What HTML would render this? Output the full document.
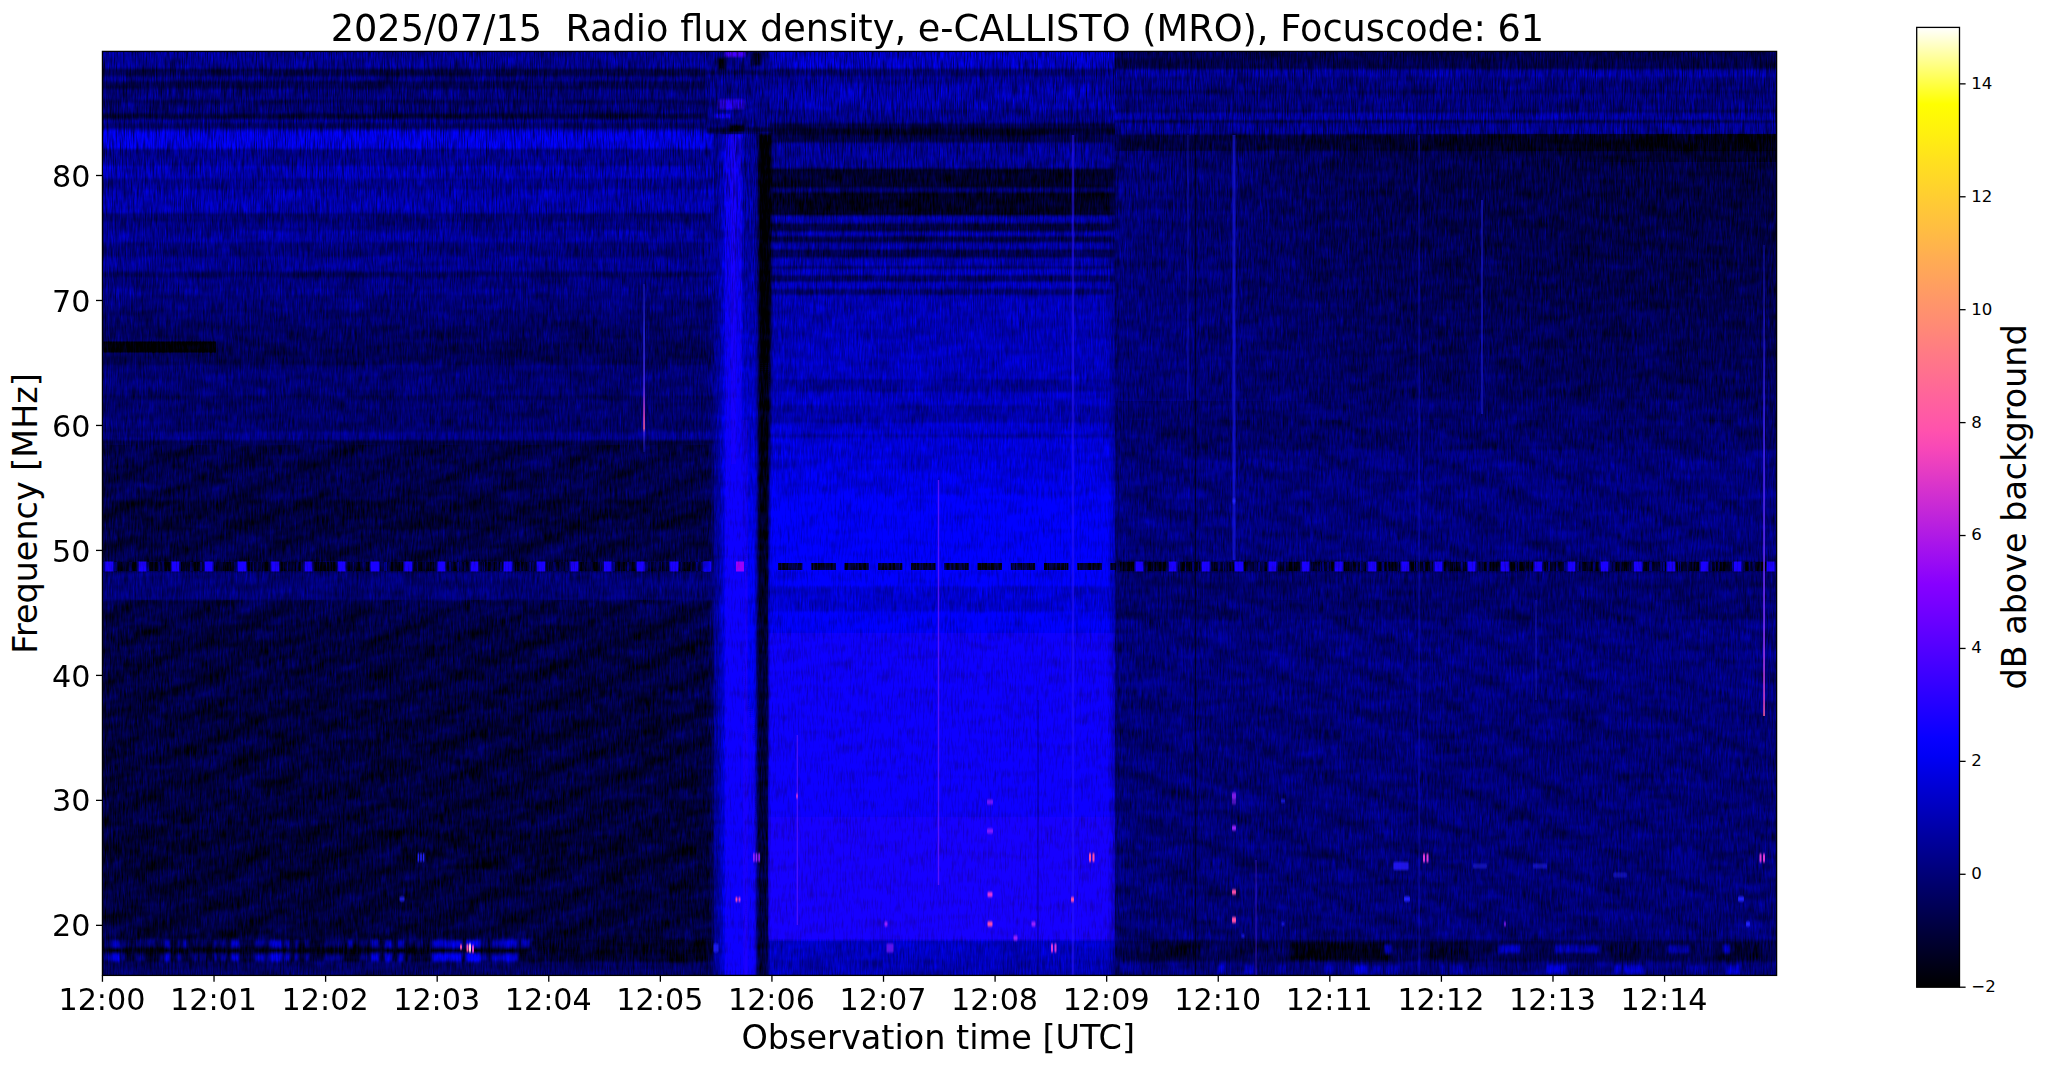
<!DOCTYPE html>
<html lang="en"><head><meta charset="utf-8"><title>2025/07/15 Radio flux density, e-CALLISTO (MRO), Focuscode: 61</title>
<style>
html,body{margin:0;padding:0;background:#fff;}
body{width:2047px;height:1067px;overflow:hidden;position:relative;font-family:"DejaVu Sans","Liberation Sans",sans-serif;}
svg{position:absolute;left:0;top:0;display:block}
text{font-family:"DejaVu Sans","Liberation Sans",sans-serif;fill:#000}
</style></head><body>
<svg width="2047" height="1067" viewBox="0 0 2047 1067">
<defs>
<filter id="vb" x="0" y="0" width="2047" height="1067" filterUnits="userSpaceOnUse"><feGaussianBlur stdDeviation="0 1.2"/></filter>
<filter id="hb" x="690" y="120" width="100" height="870" filterUnits="userSpaceOnUse"><feGaussianBlur stdDeviation="1.6 0"/></filter>
<filter id="sb2" x="100" y="930" width="1680" height="50" filterUnits="userSpaceOnUse"><feGaussianBlur stdDeviation="1.3 1.4"/></filter>
<filter id="sb" x="100" y="45" width="1680" height="935" filterUnits="userSpaceOnUse"><feGaussianBlur stdDeviation="0.7 0.9"/></filter>
<linearGradient id="ln1" x1="0" x2="0" y1="0" y2="1">
<stop offset="0" stop-color="#3030ff" stop-opacity="0.35"/><stop offset="0.3" stop-color="#3434ff" stop-opacity="0.75"/><stop offset="0.6" stop-color="#5030ff" stop-opacity="0.9"/>
<stop offset="0.72" stop-color="#b038e0"/><stop offset="0.8" stop-color="#f048c0"/><stop offset="0.86" stop-color="#ff60a0"/><stop offset="0.885" stop-color="#5030ff" stop-opacity="0.75"/><stop offset="1" stop-color="#3030ff" stop-opacity="0.25"/>
</linearGradient>
<linearGradient id="ln2" x1="0" x2="0" y1="0" y2="1">
<stop offset="0" stop-color="#2020ff" stop-opacity="0.3"/><stop offset="0.4" stop-color="#4828ff" stop-opacity="0.9"/>
<stop offset="0.8" stop-color="#8030ff"/><stop offset="0.97" stop-color="#e040d0"/><stop offset="1" stop-color="#ff60a0"/>
</linearGradient>
<filter id="bb" x="690" y="40" width="100" height="110" filterUnits="userSpaceOnUse"><feGaussianBlur stdDeviation="1.4 1.1"/></filter>
<filter id="noiseB" x="102" y="50" width="1675" height="926" filterUnits="userSpaceOnUse" color-interpolation-filters="sRGB">
<feTurbulence type="fractalNoise" baseFrequency="0.6 0.07" numOctaves="2" seed="4" result="t1"/>
<feTurbulence type="fractalNoise" baseFrequency="0.03 0.1" numOctaves="2" seed="9" result="t2"/>
<feComposite in="t1" in2="t2" operator="arithmetic" k1="0" k2="0.65" k3="0.35" k4="0" result="tt"/>
<feColorMatrix in="tt" type="matrix" values="0 0 0 0 0  1 0 0 0 0  0 0 0 0 0  0 0 0 0 1" result="gn"/>
<feComposite in="SourceGraphic" in2="gn" operator="arithmetic" k1="0" k2="1" k3="1" k4="0" result="mix"/>
<feColorMatrix in="mix" type="matrix" values="1 0 0 0 0  0 0 0 0 0  0 0.8 1 0 -0.4  0 0 0 0 1"/>
</filter>
<filter id="streak" x="102" y="50" width="1675" height="420" filterUnits="userSpaceOnUse" color-interpolation-filters="sRGB">
<feTurbulence type="fractalNoise" baseFrequency="0.9 0.05" numOctaves="2" seed="23" result="t"/>
<feColorMatrix in="t" type="matrix" values="0 0 0 0 0  0 0 0 0 0  0 0 0 0 0  1.3 0 0 0 -0.55"/>
</filter>
<linearGradient id="mskg" x1="0" x2="0" y1="50" y2="470" gradientUnits="userSpaceOnUse">
<stop offset="0" stop-color="#fff"/><stop offset="0.2" stop-color="#fff"/><stop offset="0.55" stop-color="#999"/><stop offset="0.75" stop-color="#444"/><stop offset="1" stop-color="#000"/>
</linearGradient>
<mask id="msk" maskUnits="userSpaceOnUse" x="102" y="50" width="1675" height="420"><rect x="102" y="50" width="1675" height="420" fill="url(#mskg)"/></mask>
<linearGradient id="glowL" x1="0" x2="1" y1="0" y2="0">
<stop offset="0" stop-color="#0000ff" stop-opacity="0"/>
<stop offset="0.5" stop-color="#0000f0" stop-opacity="0.35"/>
<stop offset="0.85" stop-color="#0800ff" stop-opacity="0.95"/>
<stop offset="1" stop-color="#1000ff" stop-opacity="1"/>
</linearGradient>
<linearGradient id="colR" x1="0" x2="0" y1="0" y2="1">
<stop offset="0" stop-color="#0000a0"/>
<stop offset="0.2" stop-color="#0000b4"/>
<stop offset="0.41" stop-color="#0000d8"/>
<stop offset="0.56" stop-color="#0400f5"/>
<stop offset="1" stop-color="#0c00fa"/>
</linearGradient>
<linearGradient id="barV" x1="0" x2="0" y1="0" y2="1">
<stop offset="0" stop-color="#000000"/>
<stop offset="0.35" stop-color="#000008"/>
<stop offset="0.6" stop-color="#000030"/>
<stop offset="1" stop-color="#000038"/>
</linearGradient>
<linearGradient id="cEdge" x1="0" x2="1" y1="0" y2="0">
<stop offset="0" stop-color="#000060" stop-opacity="0"/>
<stop offset="1" stop-color="#000060" stop-opacity="0.7"/>
</linearGradient>
<linearGradient id="dl" x1="0" x2="1" y1="0" y2="0">
<stop offset="0" stop-color="#0000c0" stop-opacity="0.35"/>
<stop offset="1" stop-color="#0000c0" stop-opacity="0"/>
</linearGradient>
<radialGradient id="dr" cx="1" cy="0" r="1">
<stop offset="0" stop-color="#000" stop-opacity="0.32"/>
<stop offset="0.5" stop-color="#000" stop-opacity="0.17"/>
<stop offset="0.8" stop-color="#000" stop-opacity="0.06"/>
<stop offset="1" stop-color="#000" stop-opacity="0"/>
</radialGradient>
<linearGradient id="dr2" x1="0" x2="1" y1="0" y2="0">
<stop offset="0" stop-color="#000" stop-opacity="0"/>
<stop offset="0.5" stop-color="#000" stop-opacity="0.4"/>
<stop offset="1" stop-color="#000" stop-opacity="0.6"/>
</linearGradient>
<linearGradient id="moire" gradientUnits="userSpaceOnUse" x1="0" y1="0" x2="11.6" y2="28.7" spreadMethod="repeat">
<stop offset="0" stop-color="#000" stop-opacity="0"/><stop offset="0.25" stop-color="#0000c0" stop-opacity="0.12"/><stop offset="0.5" stop-color="#000" stop-opacity="0"/><stop offset="0.75" stop-color="#000" stop-opacity="0.4"/><stop offset="1" stop-color="#000" stop-opacity="0"/>
</linearGradient>
<linearGradient id="moire2" gradientUnits="userSpaceOnUse" x1="0" y1="0" x2="-14" y2="34" spreadMethod="repeat">
<stop offset="0" stop-color="#000" stop-opacity="0"/><stop offset="0.25" stop-color="#0000c0" stop-opacity="0.1"/><stop offset="0.5" stop-color="#000" stop-opacity="0"/><stop offset="0.75" stop-color="#000" stop-opacity="0.3"/><stop offset="1" stop-color="#000" stop-opacity="0"/>
</linearGradient>
<linearGradient id="cb" x1="0" x2="0" y1="1" y2="0">
<stop offset="0.0000" stop-color="#000000"/>
<stop offset="0.0200" stop-color="#000014"/>
<stop offset="0.0400" stop-color="#000029"/>
<stop offset="0.0600" stop-color="#00003d"/>
<stop offset="0.0800" stop-color="#000052"/>
<stop offset="0.1000" stop-color="#000066"/>
<stop offset="0.1200" stop-color="#00007a"/>
<stop offset="0.1400" stop-color="#00008f"/>
<stop offset="0.1600" stop-color="#0000a3"/>
<stop offset="0.1800" stop-color="#0000b8"/>
<stop offset="0.2000" stop-color="#0000cc"/>
<stop offset="0.2200" stop-color="#0000e0"/>
<stop offset="0.2400" stop-color="#0000f5"/>
<stop offset="0.2600" stop-color="#0800ff"/>
<stop offset="0.2800" stop-color="#1800ff"/>
<stop offset="0.3000" stop-color="#2800ff"/>
<stop offset="0.3200" stop-color="#3800ff"/>
<stop offset="0.3400" stop-color="#4800ff"/>
<stop offset="0.3600" stop-color="#5800ff"/>
<stop offset="0.3800" stop-color="#6800ff"/>
<stop offset="0.4000" stop-color="#7800ff"/>
<stop offset="0.4200" stop-color="#8700ff"/>
<stop offset="0.4400" stop-color="#970af5"/>
<stop offset="0.4600" stop-color="#a714eb"/>
<stop offset="0.4800" stop-color="#b71fe0"/>
<stop offset="0.5000" stop-color="#c729d6"/>
<stop offset="0.5200" stop-color="#d733cc"/>
<stop offset="0.5400" stop-color="#e73dc2"/>
<stop offset="0.5600" stop-color="#f747b8"/>
<stop offset="0.5800" stop-color="#ff52ad"/>
<stop offset="0.6000" stop-color="#ff5ca3"/>
<stop offset="0.6200" stop-color="#ff6699"/>
<stop offset="0.6400" stop-color="#ff708f"/>
<stop offset="0.6600" stop-color="#ff7a85"/>
<stop offset="0.6800" stop-color="#ff857a"/>
<stop offset="0.7000" stop-color="#ff8f70"/>
<stop offset="0.7200" stop-color="#ff9966"/>
<stop offset="0.7400" stop-color="#ffa35c"/>
<stop offset="0.7600" stop-color="#ffad52"/>
<stop offset="0.7800" stop-color="#ffb847"/>
<stop offset="0.8000" stop-color="#ffc23d"/>
<stop offset="0.8200" stop-color="#ffcc33"/>
<stop offset="0.8400" stop-color="#ffd629"/>
<stop offset="0.8600" stop-color="#ffe01f"/>
<stop offset="0.8800" stop-color="#ffeb14"/>
<stop offset="0.9000" stop-color="#fff50a"/>
<stop offset="0.9200" stop-color="#ffff00"/>
<stop offset="0.9400" stop-color="#ffff40"/>
<stop offset="0.9600" stop-color="#ffff80"/>
<stop offset="0.9800" stop-color="#ffffbf"/>
<stop offset="1.0000" stop-color="#ffffff"/>
</linearGradient>
<clipPath id="cpAll"><rect x="102.3" y="51.2" width="1674.4" height="924.4"/></clipPath>
<clipPath id="cpT"><rect x="102" y="50.5" width="1674.5" height="294.5"/></clipPath>
<clipPath id="cpB"><rect x="102" y="345" width="1674.5" height="630.5"/></clipPath>
<g id="spec">
<rect x="102" y="50.5" width="1674.5" height="925" fill="#000078"/>
<g filter="url(#vb)">
<rect x="102.0" y="50.5" width="612.0" height="18.5" fill="#0000a0"/>
<rect x="102.0" y="68.4" width="612.0" height="8.5" fill="#000052"/>
<rect x="102.0" y="76.3" width="612.0" height="5.3" fill="#00008b"/>
<rect x="102.0" y="81.0" width="612.0" height="8.6" fill="#00005b"/>
<rect x="102.0" y="89.0" width="612.0" height="11.3" fill="#000085"/>
<rect x="102.0" y="99.7" width="612.0" height="4.5" fill="#000062"/>
<rect x="102.0" y="103.6" width="612.0" height="10.4" fill="#00007e"/>
<rect x="102.0" y="113.4" width="612.0" height="6.4" fill="#000040"/>
<rect x="102.0" y="119.2" width="612.0" height="4.4" fill="#000095"/>
<rect x="102.0" y="123.0" width="612.0" height="6.6" fill="#00006d"/>
<rect x="102.0" y="129.0" width="612.0" height="3.1" fill="#0000c2"/>
<rect x="102.0" y="131.5" width="612.0" height="17.6" fill="#0000f4"/>
<rect x="102.0" y="148.5" width="612.0" height="18.1" fill="#00009c"/>
<rect x="102.0" y="166.0" width="612.0" height="12.6" fill="#0000c2"/>
<rect x="102.0" y="178.0" width="612.0" height="12.2" fill="#00009b"/>
<rect x="102.0" y="189.6" width="612.0" height="24.0" fill="#0000b8"/>
<rect x="102.0" y="213.0" width="612.0" height="9.6" fill="#00007a"/>
<rect x="102.0" y="222.0" width="612.0" height="9.2" fill="#00008d"/>
<rect x="102.0" y="230.6" width="612.0" height="12.3" fill="#0000a7"/>
<rect x="102.0" y="242.3" width="612.0" height="15.3" fill="#000081"/>
<rect x="102.0" y="257.0" width="612.0" height="15.3" fill="#00009a"/>
<rect x="102.0" y="271.7" width="612.0" height="6.4" fill="#000064"/>
<rect x="102.0" y="277.5" width="612.0" height="12.1" fill="#000084"/>
<rect x="102.0" y="289.0" width="612.0" height="6.6" fill="#000091"/>
<rect x="102.0" y="295.0" width="612.0" height="15.6" fill="#00007b"/>
<rect x="102.0" y="310.0" width="612.0" height="15.6" fill="#00006f"/>
<rect x="102.0" y="325.0" width="612.0" height="17.6" fill="#000064"/>
<rect x="102.0" y="342.0" width="612.0" height="10.6" fill="#000059"/>
<rect x="102.0" y="352.0" width="612.0" height="13.6" fill="#000058"/>
<rect x="102.0" y="365.0" width="612.0" height="30.6" fill="#000073"/>
<rect x="102.0" y="395.0" width="612.0" height="5.6" fill="#00005c"/>
<rect x="102.0" y="400.0" width="612.0" height="32.6" fill="#00006b"/>
<rect x="102.0" y="432.0" width="612.0" height="8.6" fill="#000083"/>
<rect x="102.0" y="440.0" width="612.0" height="15.6" fill="#000049"/>
<rect x="102.0" y="455.0" width="612.0" height="15.6" fill="#000050"/>
<rect x="102.0" y="470.0" width="612.0" height="15.6" fill="#000050"/>
<rect x="102.0" y="485.0" width="612.0" height="15.6" fill="#000050"/>
<rect x="102.0" y="500.0" width="612.0" height="30.6" fill="#00003c"/>
<rect x="102.0" y="530.0" width="612.0" height="31.6" fill="#00004c"/>
<rect x="102.0" y="561.0" width="612.0" height="11.6" fill="#000037"/>
<rect x="102.0" y="572.0" width="612.0" height="28.6" fill="#000072"/>
<rect x="102.0" y="600.0" width="612.0" height="25.6" fill="#00004a"/>
<rect x="102.0" y="625.0" width="612.0" height="28.6" fill="#000040"/>
<rect x="102.0" y="653.0" width="612.0" height="47.6" fill="#000040"/>
<rect x="102.0" y="700.0" width="612.0" height="130.6" fill="#00003e"/>
<rect x="102.0" y="830.0" width="612.0" height="40.6" fill="#000035"/>
<rect x="102.0" y="870.0" width="612.0" height="70.6" fill="#00003e"/>
<rect x="102.0" y="940.0" width="612.0" height="22.6" fill="#000032"/>
<rect x="102.0" y="962.0" width="612.0" height="14.1" fill="#00005f"/>
<rect x="768.0" y="50.5" width="349.0" height="18.5" fill="#0000d5"/>
<rect x="768.0" y="68.4" width="349.0" height="8.5" fill="#00007b"/>
<rect x="768.0" y="76.3" width="349.0" height="8.3" fill="#0000a0"/>
<rect x="768.0" y="84.0" width="349.0" height="26.1" fill="#0000ba"/>
<rect x="768.0" y="109.5" width="349.0" height="14.1" fill="#000097"/>
<rect x="768.0" y="123.0" width="349.0" height="5.6" fill="#000052"/>
<rect x="768.0" y="128.0" width="349.0" height="7.6" fill="#00002e"/>
<rect x="768.0" y="135.0" width="349.0" height="8.6" fill="#000052"/>
<rect x="768.0" y="143.0" width="349.0" height="25.6" fill="#0000a4"/>
<rect x="768.0" y="168.0" width="349.0" height="20.6" fill="#00002d"/>
<rect x="768.0" y="188.0" width="349.0" height="4.6" fill="#00007b"/>
<rect x="768.0" y="192.0" width="349.0" height="24.6" fill="#000027"/>
<rect x="768.0" y="216.0" width="349.0" height="7.6" fill="#0000b1"/>
<rect x="768.0" y="223.0" width="349.0" height="9.2" fill="#00004d"/>
<rect x="768.0" y="231.6" width="349.0" height="5.0" fill="#0000b0"/>
<rect x="768.0" y="236.0" width="349.0" height="7.2" fill="#00004d"/>
<rect x="768.0" y="242.6" width="349.0" height="7.0" fill="#0000af"/>
<rect x="768.0" y="249.0" width="349.0" height="9.6" fill="#000057"/>
<rect x="768.0" y="258.0" width="349.0" height="8.6" fill="#0000b4"/>
<rect x="768.0" y="266.0" width="349.0" height="3.6" fill="#000078"/>
<rect x="768.0" y="269.0" width="349.0" height="6.6" fill="#0000c3"/>
<rect x="768.0" y="275.0" width="349.0" height="7.6" fill="#00006c"/>
<rect x="768.0" y="282.0" width="349.0" height="7.2" fill="#0000c2"/>
<rect x="768.0" y="288.6" width="349.0" height="7.0" fill="#000076"/>
<rect x="768.0" y="295.0" width="349.0" height="15.6" fill="#0000bc"/>
<rect x="768.0" y="310.0" width="349.0" height="15.6" fill="#0000bb"/>
<rect x="768.0" y="325.0" width="349.0" height="15.6" fill="#0000b9"/>
<rect x="768.0" y="340.0" width="349.0" height="39.6" fill="#0000c1"/>
<rect x="768.0" y="379.0" width="349.0" height="13.6" fill="#00009f"/>
<rect x="768.0" y="392.0" width="349.0" height="13.6" fill="#0000c4"/>
<rect x="768.0" y="405.0" width="349.0" height="18.6" fill="#0000a7"/>
<rect x="768.0" y="423.0" width="349.0" height="11.6" fill="#0000cd"/>
<rect x="768.0" y="434.0" width="349.0" height="4.6" fill="#0000ae"/>
<rect x="768.0" y="438.0" width="349.0" height="32.6" fill="#0000d5"/>
<rect x="768.0" y="470.0" width="349.0" height="25.6" fill="#0000e1"/>
<rect x="768.0" y="495.0" width="349.0" height="66.6" fill="#0300f4"/>
<rect x="768.0" y="561.0" width="349.0" height="11.1" fill="#0600ff"/>
<rect x="768.0" y="571.5" width="349.0" height="15.1" fill="#0300f2"/>
<rect x="768.0" y="586.0" width="349.0" height="26.6" fill="#0000cd"/>
<rect x="768.0" y="612.0" width="349.0" height="21.1" fill="#0600f0"/>
<rect x="768.0" y="632.5" width="349.0" height="21.1" fill="#0700f1"/>
<rect x="768.0" y="653.0" width="349.0" height="21.1" fill="#0800f2"/>
<rect x="768.0" y="673.5" width="349.0" height="21.1" fill="#0900f3"/>
<rect x="768.0" y="694.0" width="349.0" height="21.1" fill="#0a00f4"/>
<rect x="768.0" y="714.5" width="349.0" height="21.1" fill="#0c00f5"/>
<rect x="768.0" y="735.0" width="349.0" height="21.1" fill="#0d00f6"/>
<rect x="768.0" y="755.5" width="349.0" height="21.1" fill="#0e00f7"/>
<rect x="768.0" y="776.0" width="349.0" height="21.1" fill="#0f00f8"/>
<rect x="768.0" y="796.5" width="349.0" height="21.1" fill="#1000f8"/>
<rect x="768.0" y="817.0" width="349.0" height="21.1" fill="#1200f8"/>
<rect x="768.0" y="837.5" width="349.0" height="21.1" fill="#1300f8"/>
<rect x="768.0" y="858.0" width="349.0" height="21.1" fill="#1400f8"/>
<rect x="768.0" y="878.5" width="349.0" height="21.1" fill="#1500f8"/>
<rect x="768.0" y="899.0" width="349.0" height="21.1" fill="#1600f8"/>
<rect x="768.0" y="919.5" width="349.0" height="21.1" fill="#1800f8"/>
<rect x="768.0" y="940.0" width="349.0" height="20.6" fill="#0000be"/>
<rect x="768.0" y="960.0" width="349.0" height="16.1" fill="#0000af"/>
<rect x="1115.0" y="50.5" width="661.5" height="19.5" fill="#000055"/>
<rect x="1115.0" y="69.4" width="661.5" height="8.2" fill="#0000a9"/>
<rect x="1115.0" y="77.0" width="661.5" height="13.6" fill="#000089"/>
<rect x="1115.0" y="90.0" width="661.5" height="4.6" fill="#000070"/>
<rect x="1115.0" y="94.0" width="661.5" height="16.1" fill="#000089"/>
<rect x="1115.0" y="109.5" width="661.5" height="4.1" fill="#000072"/>
<rect x="1115.0" y="113.0" width="661.5" height="7.6" fill="#0000ab"/>
<rect x="1115.0" y="120.0" width="661.5" height="3.6" fill="#000059"/>
<rect x="1115.0" y="123.0" width="661.5" height="11.6" fill="#0000a0"/>
<rect x="1115.0" y="134.0" width="661.5" height="17.6" fill="#000042"/>
<rect x="1115.0" y="151.0" width="661.5" height="19.2" fill="#000066"/>
<rect x="1115.0" y="169.6" width="661.5" height="19.2" fill="#000065"/>
<rect x="1115.0" y="188.2" width="661.5" height="19.2" fill="#000064"/>
<rect x="1115.0" y="206.9" width="661.5" height="19.2" fill="#000064"/>
<rect x="1115.0" y="225.5" width="661.5" height="19.2" fill="#000063"/>
<rect x="1115.0" y="244.1" width="661.5" height="19.2" fill="#000062"/>
<rect x="1115.0" y="262.8" width="661.5" height="19.2" fill="#000062"/>
<rect x="1115.0" y="281.4" width="661.5" height="19.2" fill="#000061"/>
<rect x="1115.0" y="300.0" width="661.5" height="17.3" fill="#000064"/>
<rect x="1115.0" y="316.7" width="661.5" height="17.3" fill="#000063"/>
<rect x="1115.0" y="333.3" width="661.5" height="17.3" fill="#000062"/>
<rect x="1115.0" y="350.0" width="661.5" height="17.3" fill="#000062"/>
<rect x="1115.0" y="366.7" width="661.5" height="17.3" fill="#000061"/>
<rect x="1115.0" y="383.3" width="661.5" height="17.3" fill="#000060"/>
<rect x="1115.0" y="400.0" width="661.5" height="17.3" fill="#00006c"/>
<rect x="1115.0" y="416.7" width="661.5" height="17.3" fill="#00006c"/>
<rect x="1115.0" y="433.3" width="661.5" height="17.3" fill="#00006b"/>
<rect x="1115.0" y="450.0" width="661.5" height="19.1" fill="#00007d"/>
<rect x="1115.0" y="468.5" width="661.5" height="19.1" fill="#00007d"/>
<rect x="1115.0" y="487.0" width="661.5" height="19.1" fill="#00007d"/>
<rect x="1115.0" y="505.5" width="661.5" height="19.1" fill="#00007d"/>
<rect x="1115.0" y="524.0" width="661.5" height="19.1" fill="#00007d"/>
<rect x="1115.0" y="542.5" width="661.5" height="19.1" fill="#00007d"/>
<rect x="1115.0" y="561.0" width="661.5" height="11.6" fill="#00003c"/>
<rect x="1115.0" y="572.0" width="661.5" height="48.6" fill="#00006c"/>
<rect x="1115.0" y="620.0" width="661.5" height="80.6" fill="#00007d"/>
<rect x="1115.0" y="700.0" width="661.5" height="240.6" fill="#000076"/>
<rect x="1115.0" y="940.0" width="661.5" height="22.6" fill="#000050"/>
<rect x="1115.0" y="962.0" width="661.5" height="14.1" fill="#000070"/>
</g>
<rect x="102" y="445" width="610" height="116" fill="url(#moire)" opacity="0.9"/>
<rect x="102" y="600" width="610" height="340" fill="url(#moire)" opacity="0.9"/>
<rect x="1117" y="420" width="660" height="140" fill="url(#moire2)" opacity="0.6"/>
<rect x="1117" y="600" width="660" height="340" fill="url(#moire2)" opacity="0.6"/>
<rect x="103.5" y="341.5" width="112.5" height="11.0" fill="#000000"/>
<rect x="1115" y="151" width="260" height="250" fill="url(#dl)"/>
<rect x="1177" y="134" width="600" height="330" fill="url(#dr)"/>
<rect x="1300" y="134" width="477" height="17" fill="url(#dr2)"/>
<rect x="1540" y="150" width="237" height="12" fill="url(#dr2)" opacity="0.8"/>
<g filter="url(#hb)">
<rect x="708" y="134" width="22" height="842" fill="url(#glowL)"/>
<rect x="725.0" y="134.0" width="19.0" height="842.0" fill="#0e00ff"/>
<rect x="742" y="134" width="15" height="842" fill="url(#colR)"/>
<rect x="744.5" y="420" width="2.4" height="556" fill="#5a10ff" opacity="0.3"/>
<rect x="732.5" y="134" width="2.4" height="330" fill="#4a08ff" opacity="0.25"/>
<path d="M757.8 133 L771.6 133 L771.2 300 L769.4 480 L768.2 620 L768 976 L755.8 976 L755.8 620 L757 480 L757.6 300 Z" fill="url(#barV)"/>
</g>
<rect x="1107" y="135" width="12" height="841" fill="url(#cEdge)"/>
<g filter="url(#bb)">
<rect x="706.0" y="50.5" width="64.0" height="83.5" fill="#000096"/>
<rect x="706.0" y="69.7" width="64.0" height="5.3" fill="#00005f"/>
<rect x="706.0" y="127.0" width="64.0" height="6.0" fill="#000050"/>
<rect x="726.0" y="51.0" width="18.0" height="5.5" fill="#4600ff"/>
<rect x="717.0" y="57.5" width="9.0" height="12.2" fill="#000005"/>
<rect x="751.0" y="52.0" width="11.0" height="14.0" fill="#000028"/>
<rect x="719.0" y="99.6" width="25.0" height="9.4" fill="#2800ff"/>
<rect x="715.0" y="114.0" width="15.0" height="4.0" fill="#0a00fa"/>
<rect x="729.0" y="124.4" width="16.0" height="8.2" fill="#000000"/>
</g>
<g filter="url(#sb2)">
<rect x="103.0" y="947.0" width="597.0" height="7.0" fill="#000016"/>
<rect x="104.0" y="939.5" width="10.0" height="7.0" fill="#000082"/>
<rect x="104.0" y="954.5" width="10.0" height="7.0" fill="#00009b"/>
<rect x="122.0" y="939.5" width="3.0" height="7.0" fill="#000096"/>
<rect x="122.0" y="954.5" width="3.0" height="7.0" fill="#0000af"/>
<rect x="126.0" y="939.5" width="4.0" height="7.0" fill="#00005f"/>
<rect x="135.0" y="939.5" width="10.0" height="7.0" fill="#00005f"/>
<rect x="135.0" y="954.5" width="10.0" height="7.0" fill="#000078"/>
<rect x="147.0" y="939.5" width="8.0" height="7.0" fill="#000082"/>
<rect x="160.0" y="939.5" width="4.0" height="7.0" fill="#00005f"/>
<rect x="160.0" y="954.5" width="4.0" height="7.0" fill="#000078"/>
<rect x="177.0" y="939.5" width="4.0" height="7.0" fill="#000082"/>
<rect x="177.0" y="954.5" width="4.0" height="7.0" fill="#00009b"/>
<rect x="183.0" y="939.5" width="4.0" height="7.0" fill="#0000be"/>
<rect x="192.0" y="939.5" width="6.0" height="7.0" fill="#00005f"/>
<rect x="192.0" y="954.5" width="6.0" height="7.0" fill="#000078"/>
<rect x="200.0" y="939.5" width="6.0" height="7.0" fill="#00005f"/>
<rect x="200.0" y="954.5" width="6.0" height="7.0" fill="#000078"/>
<rect x="214.0" y="939.5" width="3.0" height="7.0" fill="#0000aa"/>
<rect x="214.0" y="954.5" width="3.0" height="7.0" fill="#0000c3"/>
<rect x="220.0" y="939.5" width="6.0" height="7.0" fill="#000082"/>
<rect x="220.0" y="954.5" width="6.0" height="7.0" fill="#00009b"/>
<rect x="231.0" y="939.5" width="8.0" height="7.0" fill="#0000be"/>
<rect x="231.0" y="954.5" width="8.0" height="7.0" fill="#0000d7"/>
<rect x="255.0" y="939.5" width="10.0" height="7.0" fill="#000096"/>
<rect x="255.0" y="954.5" width="10.0" height="7.0" fill="#0000af"/>
<rect x="266.0" y="939.5" width="8.0" height="7.0" fill="#00005f"/>
<rect x="266.0" y="954.5" width="8.0" height="7.0" fill="#000078"/>
<rect x="284.0" y="939.5" width="6.0" height="7.0" fill="#0000aa"/>
<rect x="284.0" y="954.5" width="6.0" height="7.0" fill="#0000c3"/>
<rect x="295.0" y="939.5" width="3.0" height="7.0" fill="#0000aa"/>
<rect x="295.0" y="954.5" width="3.0" height="7.0" fill="#0000c3"/>
<rect x="305.0" y="939.5" width="4.0" height="7.0" fill="#000082"/>
<rect x="305.0" y="954.5" width="4.0" height="7.0" fill="#00009b"/>
<rect x="325.0" y="939.5" width="3.0" height="7.0" fill="#000082"/>
<rect x="325.0" y="954.5" width="3.0" height="7.0" fill="#00009b"/>
<rect x="329.0" y="939.5" width="14.0" height="7.0" fill="#00006e"/>
<rect x="329.0" y="954.5" width="14.0" height="7.0" fill="#000087"/>
<rect x="348.0" y="939.5" width="4.0" height="7.0" fill="#0000be"/>
<rect x="360.0" y="939.5" width="8.0" height="7.0" fill="#00005f"/>
<rect x="360.0" y="954.5" width="8.0" height="7.0" fill="#000078"/>
<rect x="371.0" y="939.5" width="8.0" height="7.0" fill="#0000be"/>
<rect x="371.0" y="954.5" width="8.0" height="7.0" fill="#0000d7"/>
<rect x="409.0" y="939.5" width="3.0" height="7.0" fill="#00006e"/>
<rect x="409.0" y="954.5" width="3.0" height="7.0" fill="#000087"/>
<rect x="417.0" y="939.5" width="6.0" height="7.0" fill="#00006e"/>
<rect x="438.0" y="939.5" width="8.0" height="7.0" fill="#000082"/>
<rect x="438.0" y="954.5" width="8.0" height="7.0" fill="#00009b"/>
<rect x="466.0" y="939.5" width="4.0" height="7.0" fill="#00005f"/>
<rect x="466.0" y="954.5" width="4.0" height="7.0" fill="#000078"/>
<rect x="478.0" y="939.5" width="10.0" height="7.0" fill="#000082"/>
<rect x="478.0" y="954.5" width="10.0" height="7.0" fill="#00009b"/>
<rect x="491.0" y="939.5" width="14.0" height="7.0" fill="#0000aa"/>
<rect x="491.0" y="954.5" width="14.0" height="7.0" fill="#0000c3"/>
<rect x="508.0" y="939.5" width="10.0" height="7.0" fill="#0000be"/>
<rect x="508.0" y="954.5" width="10.0" height="7.0" fill="#0000d7"/>
<rect x="521.0" y="939.5" width="14.0" height="7.0" fill="#0000be"/>
<rect x="112.0" y="940.0" width="8.0" height="7.0" fill="#0000d2"/>
<rect x="112.0" y="954.0" width="8.0" height="8.0" fill="#0000e1"/>
<rect x="165.0" y="940.0" width="5.0" height="7.0" fill="#0000c8"/>
<rect x="165.0" y="954.0" width="5.0" height="8.0" fill="#0000d7"/>
<rect x="270.0" y="940.0" width="12.0" height="7.0" fill="#0000d7"/>
<rect x="270.0" y="954.0" width="12.0" height="8.0" fill="#0000e6"/>
<rect x="385.0" y="940.0" width="7.0" height="7.0" fill="#0000c8"/>
<rect x="385.0" y="954.0" width="7.0" height="8.0" fill="#0000d7"/>
<rect x="398.0" y="940.0" width="6.0" height="7.0" fill="#0000be"/>
<rect x="398.0" y="954.0" width="6.0" height="8.0" fill="#0000cd"/>
<rect x="432.0" y="940.0" width="20.0" height="7.0" fill="#0000c8"/>
<rect x="432.0" y="954.0" width="20.0" height="8.0" fill="#0000d7"/>
<rect x="452.0" y="940.0" width="10.0" height="7.0" fill="#0000e1"/>
<rect x="452.0" y="954.0" width="10.0" height="8.0" fill="#0000f0"/>
<rect x="466.0" y="940.0" width="14.0" height="7.0" fill="#0000fa"/>
<rect x="466.0" y="954.0" width="14.0" height="8.0" fill="#0000ff"/>
<rect x="505.0" y="940.0" width="7.0" height="7.0" fill="#0000d7"/>
<rect x="505.0" y="954.0" width="7.0" height="8.0" fill="#0000e6"/>
<rect x="530.0" y="940.0" width="8.0" height="21.0" fill="#000037"/>
<rect x="548.0" y="940.0" width="18.0" height="21.0" fill="#000028"/>
<rect x="576.0" y="940.0" width="18.0" height="21.0" fill="#000037"/>
<rect x="600.0" y="940.0" width="18.0" height="21.0" fill="#000028"/>
<rect x="624.0" y="940.0" width="18.0" height="21.0" fill="#000037"/>
<rect x="648.0" y="940.0" width="12.0" height="21.0" fill="#000037"/>
<rect x="666.0" y="940.0" width="18.0" height="21.0" fill="#000019"/>
<rect x="694.0" y="940.0" width="12.0" height="21.0" fill="#000019"/>
<rect x="1120.0" y="965.0" width="20.0" height="9.0" fill="#000096"/>
<rect x="1218.0" y="965.0" width="6.0" height="9.0" fill="#0000c8"/>
<rect x="1244.0" y="965.0" width="10.0" height="9.0" fill="#0000c8"/>
<rect x="1276.0" y="965.0" width="10.0" height="9.0" fill="#000096"/>
<rect x="1324.0" y="965.0" width="10.0" height="9.0" fill="#0000aa"/>
<rect x="1354.0" y="965.0" width="14.0" height="9.0" fill="#0000c8"/>
<rect x="1372.0" y="965.0" width="10.0" height="9.0" fill="#0000aa"/>
<rect x="1386.0" y="965.0" width="14.0" height="9.0" fill="#0000aa"/>
<rect x="1440.0" y="965.0" width="6.0" height="9.0" fill="#0000aa"/>
<rect x="1450.0" y="965.0" width="14.0" height="9.0" fill="#0000aa"/>
<rect x="1546.0" y="965.0" width="20.0" height="9.0" fill="#0000c8"/>
<rect x="1614.0" y="965.0" width="6.0" height="9.0" fill="#0000c8"/>
<rect x="1624.0" y="965.0" width="20.0" height="9.0" fill="#0000c8"/>
<rect x="1686.0" y="965.0" width="20.0" height="9.0" fill="#000096"/>
<rect x="1726.0" y="965.0" width="14.0" height="9.0" fill="#0000c8"/>
<rect x="1290.0" y="942.0" width="100.0" height="18.0" fill="#000019"/>
<rect x="1150.0" y="942.0" width="50.0" height="18.0" fill="#000032"/>
<rect x="1430.0" y="942.0" width="40.0" height="18.0" fill="#00002d"/>
<rect x="1610.0" y="942.0" width="30.0" height="18.0" fill="#000037"/>
<rect x="1715.0" y="942.0" width="45.0" height="18.0" fill="#00002d"/>
<rect x="1555.0" y="945.0" width="22.0" height="8.0" fill="#0000af"/>
<rect x="1667.0" y="945.0" width="23.0" height="8.0" fill="#0000af"/>
<rect x="1385.0" y="945.0" width="7.0" height="8.0" fill="#0000af"/>
<rect x="1498.0" y="945.0" width="22.0" height="8.0" fill="#0000af"/>
<rect x="1723.0" y="945.0" width="7.0" height="8.0" fill="#0000af"/>
<rect x="1577.0" y="945.0" width="23.0" height="8.0" fill="#0000af"/>
</g>
<rect x="102.0" y="562.0" width="610.0" height="9.0" fill="#000026"/>
<rect x="102.0" y="562.0" width="2.0" height="9.0" fill="#000078"/>
<rect x="107.0" y="562.0" width="2.0" height="9.0" fill="#000050"/>
<rect x="110.0" y="562.0" width="1.0" height="9.0" fill="#000078"/>
<rect x="114.0" y="562.0" width="3.0" height="9.0" fill="#000078"/>
<rect x="118.0" y="562.0" width="1.0" height="9.0" fill="#000032"/>
<rect x="121.0" y="562.0" width="1.0" height="9.0" fill="#000000"/>
<rect x="123.0" y="562.0" width="3.0" height="9.0" fill="#000032"/>
<rect x="129.0" y="562.0" width="3.0" height="9.0" fill="#000064"/>
<rect x="133.0" y="562.0" width="3.0" height="9.0" fill="#000000"/>
<rect x="137.0" y="562.0" width="1.0" height="9.0" fill="#000000"/>
<rect x="139.0" y="562.0" width="1.0" height="9.0" fill="#000050"/>
<rect x="141.0" y="562.0" width="2.0" height="9.0" fill="#000000"/>
<rect x="146.0" y="562.0" width="3.0" height="9.0" fill="#000078"/>
<rect x="150.0" y="562.0" width="3.0" height="9.0" fill="#000000"/>
<rect x="155.0" y="562.0" width="2.0" height="9.0" fill="#000000"/>
<rect x="158.0" y="562.0" width="2.0" height="9.0" fill="#000064"/>
<rect x="162.0" y="562.0" width="2.0" height="9.0" fill="#000050"/>
<rect x="165.0" y="562.0" width="2.0" height="9.0" fill="#000000"/>
<rect x="168.0" y="562.0" width="3.0" height="9.0" fill="#000000"/>
<rect x="172.0" y="562.0" width="1.0" height="9.0" fill="#000050"/>
<rect x="174.0" y="562.0" width="2.0" height="9.0" fill="#000000"/>
<rect x="178.0" y="562.0" width="2.0" height="9.0" fill="#000000"/>
<rect x="181.0" y="562.0" width="1.0" height="9.0" fill="#000000"/>
<rect x="183.0" y="562.0" width="1.0" height="9.0" fill="#000032"/>
<rect x="187.0" y="562.0" width="2.0" height="9.0" fill="#000032"/>
<rect x="190.0" y="562.0" width="3.0" height="9.0" fill="#000064"/>
<rect x="194.0" y="562.0" width="2.0" height="9.0" fill="#000000"/>
<rect x="197.0" y="562.0" width="2.0" height="9.0" fill="#000000"/>
<rect x="200.0" y="562.0" width="2.0" height="9.0" fill="#000078"/>
<rect x="203.0" y="562.0" width="1.0" height="9.0" fill="#000000"/>
<rect x="205.0" y="562.0" width="1.0" height="9.0" fill="#000000"/>
<rect x="209.0" y="562.0" width="2.0" height="9.0" fill="#000000"/>
<rect x="212.0" y="562.0" width="2.0" height="9.0" fill="#000050"/>
<rect x="215.0" y="562.0" width="1.0" height="9.0" fill="#000032"/>
<rect x="219.0" y="562.0" width="1.0" height="9.0" fill="#000032"/>
<rect x="223.0" y="562.0" width="1.0" height="9.0" fill="#000000"/>
<rect x="226.0" y="562.0" width="3.0" height="9.0" fill="#000000"/>
<rect x="230.0" y="562.0" width="1.0" height="9.0" fill="#000000"/>
<rect x="234.0" y="562.0" width="3.0" height="9.0" fill="#000064"/>
<rect x="238.0" y="562.0" width="1.0" height="9.0" fill="#000000"/>
<rect x="240.0" y="562.0" width="2.0" height="9.0" fill="#000000"/>
<rect x="243.0" y="562.0" width="3.0" height="9.0" fill="#000000"/>
<rect x="248.0" y="562.0" width="2.0" height="9.0" fill="#000000"/>
<rect x="251.0" y="562.0" width="1.0" height="9.0" fill="#000000"/>
<rect x="253.0" y="562.0" width="1.0" height="9.0" fill="#000050"/>
<rect x="256.0" y="562.0" width="2.0" height="9.0" fill="#000050"/>
<rect x="261.0" y="562.0" width="1.0" height="9.0" fill="#000050"/>
<rect x="265.0" y="562.0" width="3.0" height="9.0" fill="#000000"/>
<rect x="271.0" y="562.0" width="1.0" height="9.0" fill="#000064"/>
<rect x="273.0" y="562.0" width="2.0" height="9.0" fill="#000000"/>
<rect x="276.0" y="562.0" width="1.0" height="9.0" fill="#000000"/>
<rect x="278.0" y="562.0" width="2.0" height="9.0" fill="#000032"/>
<rect x="281.0" y="562.0" width="2.0" height="9.0" fill="#000000"/>
<rect x="284.0" y="562.0" width="1.0" height="9.0" fill="#000000"/>
<rect x="287.0" y="562.0" width="1.0" height="9.0" fill="#000064"/>
<rect x="291.0" y="562.0" width="2.0" height="9.0" fill="#000032"/>
<rect x="296.0" y="562.0" width="2.0" height="9.0" fill="#000050"/>
<rect x="299.0" y="562.0" width="1.0" height="9.0" fill="#000000"/>
<rect x="301.0" y="562.0" width="2.0" height="9.0" fill="#000050"/>
<rect x="304.0" y="562.0" width="2.0" height="9.0" fill="#000000"/>
<rect x="307.0" y="562.0" width="1.0" height="9.0" fill="#000000"/>
<rect x="310.0" y="562.0" width="2.0" height="9.0" fill="#000032"/>
<rect x="313.0" y="562.0" width="1.0" height="9.0" fill="#000000"/>
<rect x="315.0" y="562.0" width="2.0" height="9.0" fill="#000000"/>
<rect x="318.0" y="562.0" width="1.0" height="9.0" fill="#000000"/>
<rect x="320.0" y="562.0" width="2.0" height="9.0" fill="#000000"/>
<rect x="323.0" y="562.0" width="3.0" height="9.0" fill="#000000"/>
<rect x="327.0" y="562.0" width="2.0" height="9.0" fill="#000000"/>
<rect x="331.0" y="562.0" width="1.0" height="9.0" fill="#000000"/>
<rect x="333.0" y="562.0" width="2.0" height="9.0" fill="#000000"/>
<rect x="337.0" y="562.0" width="2.0" height="9.0" fill="#000000"/>
<rect x="340.0" y="562.0" width="1.0" height="9.0" fill="#000032"/>
<rect x="343.0" y="562.0" width="1.0" height="9.0" fill="#000064"/>
<rect x="345.0" y="562.0" width="2.0" height="9.0" fill="#000000"/>
<rect x="348.0" y="562.0" width="2.0" height="9.0" fill="#000000"/>
<rect x="353.0" y="562.0" width="1.0" height="9.0" fill="#000078"/>
<rect x="357.0" y="562.0" width="3.0" height="9.0" fill="#000000"/>
<rect x="363.0" y="562.0" width="2.0" height="9.0" fill="#000050"/>
<rect x="366.0" y="562.0" width="3.0" height="9.0" fill="#000000"/>
<rect x="370.0" y="562.0" width="1.0" height="9.0" fill="#000064"/>
<rect x="372.0" y="562.0" width="2.0" height="9.0" fill="#000032"/>
<rect x="376.0" y="562.0" width="2.0" height="9.0" fill="#000064"/>
<rect x="381.0" y="562.0" width="2.0" height="9.0" fill="#000032"/>
<rect x="384.0" y="562.0" width="3.0" height="9.0" fill="#000078"/>
<rect x="388.0" y="562.0" width="2.0" height="9.0" fill="#000050"/>
<rect x="391.0" y="562.0" width="2.0" height="9.0" fill="#000000"/>
<rect x="394.0" y="562.0" width="1.0" height="9.0" fill="#000032"/>
<rect x="398.0" y="562.0" width="2.0" height="9.0" fill="#000000"/>
<rect x="402.0" y="562.0" width="2.0" height="9.0" fill="#000000"/>
<rect x="405.0" y="562.0" width="3.0" height="9.0" fill="#000000"/>
<rect x="410.0" y="562.0" width="2.0" height="9.0" fill="#000032"/>
<rect x="413.0" y="562.0" width="2.0" height="9.0" fill="#000032"/>
<rect x="417.0" y="562.0" width="1.0" height="9.0" fill="#000064"/>
<rect x="421.0" y="562.0" width="1.0" height="9.0" fill="#000000"/>
<rect x="425.0" y="562.0" width="1.0" height="9.0" fill="#000050"/>
<rect x="428.0" y="562.0" width="1.0" height="9.0" fill="#000000"/>
<rect x="430.0" y="562.0" width="2.0" height="9.0" fill="#000000"/>
<rect x="433.0" y="562.0" width="1.0" height="9.0" fill="#000000"/>
<rect x="435.0" y="562.0" width="1.0" height="9.0" fill="#000032"/>
<rect x="439.0" y="562.0" width="2.0" height="9.0" fill="#000000"/>
<rect x="444.0" y="562.0" width="2.0" height="9.0" fill="#000064"/>
<rect x="449.0" y="562.0" width="2.0" height="9.0" fill="#000064"/>
<rect x="454.0" y="562.0" width="2.0" height="9.0" fill="#000000"/>
<rect x="457.0" y="562.0" width="2.0" height="9.0" fill="#000078"/>
<rect x="460.0" y="562.0" width="2.0" height="9.0" fill="#000050"/>
<rect x="464.0" y="562.0" width="2.0" height="9.0" fill="#000064"/>
<rect x="467.0" y="562.0" width="1.0" height="9.0" fill="#000032"/>
<rect x="471.0" y="562.0" width="1.0" height="9.0" fill="#000000"/>
<rect x="474.0" y="562.0" width="1.0" height="9.0" fill="#000078"/>
<rect x="476.0" y="562.0" width="1.0" height="9.0" fill="#000064"/>
<rect x="478.0" y="562.0" width="2.0" height="9.0" fill="#000000"/>
<rect x="482.0" y="562.0" width="1.0" height="9.0" fill="#000064"/>
<rect x="484.0" y="562.0" width="1.0" height="9.0" fill="#000078"/>
<rect x="488.0" y="562.0" width="2.0" height="9.0" fill="#000000"/>
<rect x="491.0" y="562.0" width="2.0" height="9.0" fill="#000050"/>
<rect x="494.0" y="562.0" width="1.0" height="9.0" fill="#000000"/>
<rect x="497.0" y="562.0" width="2.0" height="9.0" fill="#000050"/>
<rect x="500.0" y="562.0" width="2.0" height="9.0" fill="#000078"/>
<rect x="503.0" y="562.0" width="1.0" height="9.0" fill="#000032"/>
<rect x="507.0" y="562.0" width="1.0" height="9.0" fill="#000032"/>
<rect x="511.0" y="562.0" width="1.0" height="9.0" fill="#000064"/>
<rect x="513.0" y="562.0" width="2.0" height="9.0" fill="#000050"/>
<rect x="517.0" y="562.0" width="2.0" height="9.0" fill="#000000"/>
<rect x="520.0" y="562.0" width="1.0" height="9.0" fill="#000064"/>
<rect x="522.0" y="562.0" width="1.0" height="9.0" fill="#000000"/>
<rect x="526.0" y="562.0" width="1.0" height="9.0" fill="#000000"/>
<rect x="529.0" y="562.0" width="2.0" height="9.0" fill="#000064"/>
<rect x="532.0" y="562.0" width="2.0" height="9.0" fill="#000050"/>
<rect x="535.0" y="562.0" width="1.0" height="9.0" fill="#000032"/>
<rect x="538.0" y="562.0" width="3.0" height="9.0" fill="#000032"/>
<rect x="543.0" y="562.0" width="2.0" height="9.0" fill="#000000"/>
<rect x="546.0" y="562.0" width="1.0" height="9.0" fill="#000032"/>
<rect x="548.0" y="562.0" width="1.0" height="9.0" fill="#000050"/>
<rect x="551.0" y="562.0" width="1.0" height="9.0" fill="#000032"/>
<rect x="553.0" y="562.0" width="3.0" height="9.0" fill="#000064"/>
<rect x="559.0" y="562.0" width="2.0" height="9.0" fill="#000050"/>
<rect x="562.0" y="562.0" width="1.0" height="9.0" fill="#000032"/>
<rect x="565.0" y="562.0" width="3.0" height="9.0" fill="#000064"/>
<rect x="569.0" y="562.0" width="3.0" height="9.0" fill="#000050"/>
<rect x="574.0" y="562.0" width="2.0" height="9.0" fill="#000064"/>
<rect x="579.0" y="562.0" width="3.0" height="9.0" fill="#000000"/>
<rect x="584.0" y="562.0" width="1.0" height="9.0" fill="#000050"/>
<rect x="587.0" y="562.0" width="3.0" height="9.0" fill="#000032"/>
<rect x="591.0" y="562.0" width="2.0" height="9.0" fill="#000050"/>
<rect x="594.0" y="562.0" width="3.0" height="9.0" fill="#000000"/>
<rect x="600.0" y="562.0" width="1.0" height="9.0" fill="#000050"/>
<rect x="602.0" y="562.0" width="3.0" height="9.0" fill="#000032"/>
<rect x="606.0" y="562.0" width="2.0" height="9.0" fill="#000000"/>
<rect x="609.0" y="562.0" width="1.0" height="9.0" fill="#000050"/>
<rect x="613.0" y="562.0" width="2.0" height="9.0" fill="#000078"/>
<rect x="618.0" y="562.0" width="2.0" height="9.0" fill="#000000"/>
<rect x="623.0" y="562.0" width="2.0" height="9.0" fill="#000000"/>
<rect x="627.0" y="562.0" width="2.0" height="9.0" fill="#000078"/>
<rect x="632.0" y="562.0" width="3.0" height="9.0" fill="#000000"/>
<rect x="636.0" y="562.0" width="1.0" height="9.0" fill="#000032"/>
<rect x="638.0" y="562.0" width="2.0" height="9.0" fill="#000000"/>
<rect x="641.0" y="562.0" width="1.0" height="9.0" fill="#000000"/>
<rect x="643.0" y="562.0" width="1.0" height="9.0" fill="#000000"/>
<rect x="646.0" y="562.0" width="2.0" height="9.0" fill="#000064"/>
<rect x="650.0" y="562.0" width="1.0" height="9.0" fill="#000050"/>
<rect x="654.0" y="562.0" width="1.0" height="9.0" fill="#000032"/>
<rect x="656.0" y="562.0" width="3.0" height="9.0" fill="#000050"/>
<rect x="661.0" y="562.0" width="1.0" height="9.0" fill="#000064"/>
<rect x="665.0" y="562.0" width="1.0" height="9.0" fill="#000032"/>
<rect x="669.0" y="562.0" width="3.0" height="9.0" fill="#000050"/>
<rect x="673.0" y="562.0" width="3.0" height="9.0" fill="#000000"/>
<rect x="677.0" y="562.0" width="3.0" height="9.0" fill="#000000"/>
<rect x="681.0" y="562.0" width="1.0" height="9.0" fill="#000064"/>
<rect x="684.0" y="562.0" width="1.0" height="9.0" fill="#000000"/>
<rect x="687.0" y="562.0" width="1.0" height="9.0" fill="#000000"/>
<rect x="689.0" y="562.0" width="1.0" height="9.0" fill="#000000"/>
<rect x="691.0" y="562.0" width="1.0" height="9.0" fill="#000064"/>
<rect x="693.0" y="562.0" width="2.0" height="9.0" fill="#000032"/>
<rect x="696.0" y="562.0" width="2.0" height="9.0" fill="#000078"/>
<rect x="701.0" y="562.0" width="3.0" height="9.0" fill="#000078"/>
<rect x="705.0" y="562.0" width="1.0" height="9.0" fill="#000032"/>
<rect x="707.0" y="562.0" width="1.0" height="9.0" fill="#000000"/>
<rect x="710.0" y="562.0" width="2.0" height="9.0" fill="#000000"/>
<rect x="1117.0" y="562.0" width="659.5" height="9.0" fill="#000026"/>
<rect x="1117.0" y="562.0" width="3.0" height="9.0" fill="#000064"/>
<rect x="1121.0" y="562.0" width="1.0" height="9.0" fill="#000032"/>
<rect x="1123.0" y="562.0" width="1.0" height="9.0" fill="#000000"/>
<rect x="1127.0" y="562.0" width="1.0" height="9.0" fill="#000000"/>
<rect x="1129.0" y="562.0" width="1.0" height="9.0" fill="#000000"/>
<rect x="1131.0" y="562.0" width="1.0" height="9.0" fill="#000000"/>
<rect x="1133.0" y="562.0" width="3.0" height="9.0" fill="#000000"/>
<rect x="1137.0" y="562.0" width="2.0" height="9.0" fill="#000000"/>
<rect x="1140.0" y="562.0" width="2.0" height="9.0" fill="#000032"/>
<rect x="1145.0" y="562.0" width="2.0" height="9.0" fill="#000050"/>
<rect x="1149.0" y="562.0" width="2.0" height="9.0" fill="#000000"/>
<rect x="1153.0" y="562.0" width="1.0" height="9.0" fill="#000064"/>
<rect x="1155.0" y="562.0" width="1.0" height="9.0" fill="#000000"/>
<rect x="1159.0" y="562.0" width="2.0" height="9.0" fill="#000000"/>
<rect x="1163.0" y="562.0" width="2.0" height="9.0" fill="#000000"/>
<rect x="1166.0" y="562.0" width="1.0" height="9.0" fill="#000050"/>
<rect x="1168.0" y="562.0" width="2.0" height="9.0" fill="#000000"/>
<rect x="1173.0" y="562.0" width="3.0" height="9.0" fill="#000050"/>
<rect x="1177.0" y="562.0" width="3.0" height="9.0" fill="#000050"/>
<rect x="1182.0" y="562.0" width="2.0" height="9.0" fill="#000000"/>
<rect x="1185.0" y="562.0" width="1.0" height="9.0" fill="#000078"/>
<rect x="1189.0" y="562.0" width="1.0" height="9.0" fill="#000000"/>
<rect x="1192.0" y="562.0" width="2.0" height="9.0" fill="#000078"/>
<rect x="1195.0" y="562.0" width="2.0" height="9.0" fill="#000000"/>
<rect x="1198.0" y="562.0" width="1.0" height="9.0" fill="#000078"/>
<rect x="1201.0" y="562.0" width="2.0" height="9.0" fill="#000032"/>
<rect x="1204.0" y="562.0" width="1.0" height="9.0" fill="#000000"/>
<rect x="1206.0" y="562.0" width="1.0" height="9.0" fill="#000000"/>
<rect x="1209.0" y="562.0" width="2.0" height="9.0" fill="#000000"/>
<rect x="1214.0" y="562.0" width="3.0" height="9.0" fill="#000000"/>
<rect x="1218.0" y="562.0" width="2.0" height="9.0" fill="#000050"/>
<rect x="1223.0" y="562.0" width="1.0" height="9.0" fill="#000064"/>
<rect x="1225.0" y="562.0" width="2.0" height="9.0" fill="#000050"/>
<rect x="1228.0" y="562.0" width="1.0" height="9.0" fill="#000050"/>
<rect x="1230.0" y="562.0" width="1.0" height="9.0" fill="#000000"/>
<rect x="1234.0" y="562.0" width="2.0" height="9.0" fill="#000050"/>
<rect x="1237.0" y="562.0" width="1.0" height="9.0" fill="#000064"/>
<rect x="1241.0" y="562.0" width="1.0" height="9.0" fill="#000000"/>
<rect x="1244.0" y="562.0" width="2.0" height="9.0" fill="#000000"/>
<rect x="1248.0" y="562.0" width="3.0" height="9.0" fill="#000050"/>
<rect x="1254.0" y="562.0" width="3.0" height="9.0" fill="#000050"/>
<rect x="1258.0" y="562.0" width="2.0" height="9.0" fill="#000078"/>
<rect x="1261.0" y="562.0" width="3.0" height="9.0" fill="#000050"/>
<rect x="1265.0" y="562.0" width="2.0" height="9.0" fill="#000000"/>
<rect x="1270.0" y="562.0" width="2.0" height="9.0" fill="#000000"/>
<rect x="1275.0" y="562.0" width="3.0" height="9.0" fill="#000050"/>
<rect x="1279.0" y="562.0" width="2.0" height="9.0" fill="#000032"/>
<rect x="1284.0" y="562.0" width="2.0" height="9.0" fill="#000050"/>
<rect x="1289.0" y="562.0" width="3.0" height="9.0" fill="#000000"/>
<rect x="1294.0" y="562.0" width="3.0" height="9.0" fill="#000000"/>
<rect x="1300.0" y="562.0" width="2.0" height="9.0" fill="#000050"/>
<rect x="1304.0" y="562.0" width="2.0" height="9.0" fill="#000000"/>
<rect x="1307.0" y="562.0" width="1.0" height="9.0" fill="#000050"/>
<rect x="1309.0" y="562.0" width="1.0" height="9.0" fill="#000032"/>
<rect x="1313.0" y="562.0" width="1.0" height="9.0" fill="#000000"/>
<rect x="1317.0" y="562.0" width="1.0" height="9.0" fill="#000050"/>
<rect x="1320.0" y="562.0" width="1.0" height="9.0" fill="#000078"/>
<rect x="1322.0" y="562.0" width="2.0" height="9.0" fill="#000064"/>
<rect x="1327.0" y="562.0" width="2.0" height="9.0" fill="#000078"/>
<rect x="1330.0" y="562.0" width="1.0" height="9.0" fill="#000050"/>
<rect x="1332.0" y="562.0" width="2.0" height="9.0" fill="#000000"/>
<rect x="1335.0" y="562.0" width="3.0" height="9.0" fill="#000064"/>
<rect x="1339.0" y="562.0" width="1.0" height="9.0" fill="#000050"/>
<rect x="1343.0" y="562.0" width="2.0" height="9.0" fill="#000000"/>
<rect x="1346.0" y="562.0" width="1.0" height="9.0" fill="#000000"/>
<rect x="1348.0" y="562.0" width="1.0" height="9.0" fill="#000000"/>
<rect x="1352.0" y="562.0" width="1.0" height="9.0" fill="#000064"/>
<rect x="1356.0" y="562.0" width="2.0" height="9.0" fill="#000050"/>
<rect x="1360.0" y="562.0" width="3.0" height="9.0" fill="#000064"/>
<rect x="1366.0" y="562.0" width="2.0" height="9.0" fill="#000078"/>
<rect x="1369.0" y="562.0" width="2.0" height="9.0" fill="#000064"/>
<rect x="1372.0" y="562.0" width="1.0" height="9.0" fill="#000032"/>
<rect x="1374.0" y="562.0" width="3.0" height="9.0" fill="#000000"/>
<rect x="1379.0" y="562.0" width="2.0" height="9.0" fill="#000000"/>
<rect x="1382.0" y="562.0" width="2.0" height="9.0" fill="#000078"/>
<rect x="1385.0" y="562.0" width="1.0" height="9.0" fill="#000000"/>
<rect x="1387.0" y="562.0" width="1.0" height="9.0" fill="#000064"/>
<rect x="1389.0" y="562.0" width="1.0" height="9.0" fill="#000000"/>
<rect x="1392.0" y="562.0" width="2.0" height="9.0" fill="#000000"/>
<rect x="1395.0" y="562.0" width="1.0" height="9.0" fill="#000000"/>
<rect x="1398.0" y="562.0" width="1.0" height="9.0" fill="#000078"/>
<rect x="1400.0" y="562.0" width="1.0" height="9.0" fill="#000050"/>
<rect x="1402.0" y="562.0" width="2.0" height="9.0" fill="#000032"/>
<rect x="1407.0" y="562.0" width="2.0" height="9.0" fill="#000000"/>
<rect x="1411.0" y="562.0" width="2.0" height="9.0" fill="#000032"/>
<rect x="1414.0" y="562.0" width="1.0" height="9.0" fill="#000078"/>
<rect x="1416.0" y="562.0" width="2.0" height="9.0" fill="#000078"/>
<rect x="1419.0" y="562.0" width="2.0" height="9.0" fill="#000032"/>
<rect x="1423.0" y="562.0" width="2.0" height="9.0" fill="#000078"/>
<rect x="1426.0" y="562.0" width="2.0" height="9.0" fill="#000000"/>
<rect x="1430.0" y="562.0" width="2.0" height="9.0" fill="#000050"/>
<rect x="1433.0" y="562.0" width="2.0" height="9.0" fill="#000064"/>
<rect x="1437.0" y="562.0" width="3.0" height="9.0" fill="#000000"/>
<rect x="1443.0" y="562.0" width="2.0" height="9.0" fill="#000000"/>
<rect x="1446.0" y="562.0" width="2.0" height="9.0" fill="#000050"/>
<rect x="1451.0" y="562.0" width="2.0" height="9.0" fill="#000000"/>
<rect x="1454.0" y="562.0" width="1.0" height="9.0" fill="#000000"/>
<rect x="1456.0" y="562.0" width="3.0" height="9.0" fill="#000000"/>
<rect x="1461.0" y="562.0" width="2.0" height="9.0" fill="#000064"/>
<rect x="1465.0" y="562.0" width="2.0" height="9.0" fill="#000000"/>
<rect x="1468.0" y="562.0" width="2.0" height="9.0" fill="#000064"/>
<rect x="1472.0" y="562.0" width="2.0" height="9.0" fill="#000000"/>
<rect x="1476.0" y="562.0" width="2.0" height="9.0" fill="#000050"/>
<rect x="1480.0" y="562.0" width="2.0" height="9.0" fill="#000050"/>
<rect x="1484.0" y="562.0" width="2.0" height="9.0" fill="#000000"/>
<rect x="1487.0" y="562.0" width="2.0" height="9.0" fill="#000064"/>
<rect x="1490.0" y="562.0" width="1.0" height="9.0" fill="#000000"/>
<rect x="1493.0" y="562.0" width="1.0" height="9.0" fill="#000000"/>
<rect x="1497.0" y="562.0" width="3.0" height="9.0" fill="#000032"/>
<rect x="1501.0" y="562.0" width="3.0" height="9.0" fill="#000000"/>
<rect x="1507.0" y="562.0" width="3.0" height="9.0" fill="#000000"/>
<rect x="1511.0" y="562.0" width="1.0" height="9.0" fill="#000000"/>
<rect x="1515.0" y="562.0" width="2.0" height="9.0" fill="#000078"/>
<rect x="1518.0" y="562.0" width="1.0" height="9.0" fill="#000050"/>
<rect x="1520.0" y="562.0" width="3.0" height="9.0" fill="#000000"/>
<rect x="1525.0" y="562.0" width="1.0" height="9.0" fill="#000064"/>
<rect x="1529.0" y="562.0" width="1.0" height="9.0" fill="#000050"/>
<rect x="1532.0" y="562.0" width="3.0" height="9.0" fill="#000000"/>
<rect x="1537.0" y="562.0" width="1.0" height="9.0" fill="#000000"/>
<rect x="1539.0" y="562.0" width="2.0" height="9.0" fill="#000000"/>
<rect x="1542.0" y="562.0" width="1.0" height="9.0" fill="#000000"/>
<rect x="1546.0" y="562.0" width="1.0" height="9.0" fill="#000064"/>
<rect x="1548.0" y="562.0" width="2.0" height="9.0" fill="#000078"/>
<rect x="1552.0" y="562.0" width="2.0" height="9.0" fill="#000032"/>
<rect x="1556.0" y="562.0" width="2.0" height="9.0" fill="#000078"/>
<rect x="1560.0" y="562.0" width="1.0" height="9.0" fill="#000032"/>
<rect x="1564.0" y="562.0" width="3.0" height="9.0" fill="#000078"/>
<rect x="1568.0" y="562.0" width="3.0" height="9.0" fill="#000000"/>
<rect x="1574.0" y="562.0" width="2.0" height="9.0" fill="#000078"/>
<rect x="1577.0" y="562.0" width="2.0" height="9.0" fill="#000078"/>
<rect x="1580.0" y="562.0" width="2.0" height="9.0" fill="#000050"/>
<rect x="1583.0" y="562.0" width="3.0" height="9.0" fill="#000000"/>
<rect x="1587.0" y="562.0" width="1.0" height="9.0" fill="#000032"/>
<rect x="1591.0" y="562.0" width="1.0" height="9.0" fill="#000000"/>
<rect x="1593.0" y="562.0" width="2.0" height="9.0" fill="#000064"/>
<rect x="1596.0" y="562.0" width="2.0" height="9.0" fill="#000000"/>
<rect x="1601.0" y="562.0" width="2.0" height="9.0" fill="#000050"/>
<rect x="1605.0" y="562.0" width="2.0" height="9.0" fill="#000000"/>
<rect x="1610.0" y="562.0" width="2.0" height="9.0" fill="#000064"/>
<rect x="1613.0" y="562.0" width="2.0" height="9.0" fill="#000064"/>
<rect x="1616.0" y="562.0" width="1.0" height="9.0" fill="#000000"/>
<rect x="1620.0" y="562.0" width="1.0" height="9.0" fill="#000050"/>
<rect x="1624.0" y="562.0" width="1.0" height="9.0" fill="#000000"/>
<rect x="1626.0" y="562.0" width="1.0" height="9.0" fill="#000000"/>
<rect x="1629.0" y="562.0" width="1.0" height="9.0" fill="#000050"/>
<rect x="1631.0" y="562.0" width="3.0" height="9.0" fill="#000064"/>
<rect x="1637.0" y="562.0" width="3.0" height="9.0" fill="#000050"/>
<rect x="1641.0" y="562.0" width="2.0" height="9.0" fill="#000000"/>
<rect x="1645.0" y="562.0" width="2.0" height="9.0" fill="#000000"/>
<rect x="1649.0" y="562.0" width="3.0" height="9.0" fill="#000078"/>
<rect x="1655.0" y="562.0" width="2.0" height="9.0" fill="#000032"/>
<rect x="1660.0" y="562.0" width="2.0" height="9.0" fill="#000064"/>
<rect x="1663.0" y="562.0" width="2.0" height="9.0" fill="#000078"/>
<rect x="1666.0" y="562.0" width="2.0" height="9.0" fill="#000000"/>
<rect x="1669.0" y="562.0" width="1.0" height="9.0" fill="#000078"/>
<rect x="1673.0" y="562.0" width="3.0" height="9.0" fill="#000078"/>
<rect x="1678.0" y="562.0" width="1.0" height="9.0" fill="#000064"/>
<rect x="1680.0" y="562.0" width="1.0" height="9.0" fill="#000078"/>
<rect x="1684.0" y="562.0" width="2.0" height="9.0" fill="#000032"/>
<rect x="1687.0" y="562.0" width="2.0" height="9.0" fill="#000050"/>
<rect x="1690.0" y="562.0" width="2.0" height="9.0" fill="#000000"/>
<rect x="1694.0" y="562.0" width="1.0" height="9.0" fill="#000000"/>
<rect x="1696.0" y="562.0" width="3.0" height="9.0" fill="#000000"/>
<rect x="1700.0" y="562.0" width="1.0" height="9.0" fill="#000050"/>
<rect x="1702.0" y="562.0" width="1.0" height="9.0" fill="#000000"/>
<rect x="1704.0" y="562.0" width="1.0" height="9.0" fill="#000000"/>
<rect x="1707.0" y="562.0" width="2.0" height="9.0" fill="#000050"/>
<rect x="1710.0" y="562.0" width="2.0" height="9.0" fill="#000064"/>
<rect x="1715.0" y="562.0" width="1.0" height="9.0" fill="#000064"/>
<rect x="1718.0" y="562.0" width="1.0" height="9.0" fill="#000078"/>
<rect x="1720.0" y="562.0" width="2.0" height="9.0" fill="#000000"/>
<rect x="1723.0" y="562.0" width="2.0" height="9.0" fill="#000000"/>
<rect x="1726.0" y="562.0" width="3.0" height="9.0" fill="#000032"/>
<rect x="1732.0" y="562.0" width="1.0" height="9.0" fill="#000078"/>
<rect x="1735.0" y="562.0" width="2.0" height="9.0" fill="#000000"/>
<rect x="1740.0" y="562.0" width="1.0" height="9.0" fill="#000050"/>
<rect x="1743.0" y="562.0" width="2.0" height="9.0" fill="#000064"/>
<rect x="1746.0" y="562.0" width="2.0" height="9.0" fill="#000000"/>
<rect x="1749.0" y="562.0" width="1.0" height="9.0" fill="#000064"/>
<rect x="1753.0" y="562.0" width="2.0" height="9.0" fill="#000064"/>
<rect x="1756.0" y="562.0" width="2.0" height="9.0" fill="#000000"/>
<rect x="1761.0" y="562.0" width="2.0" height="9.0" fill="#000000"/>
<rect x="1765.0" y="562.0" width="3.0" height="9.0" fill="#000000"/>
<rect x="1771.0" y="562.0" width="1.0" height="9.0" fill="#000078"/>
<rect x="1773.0" y="562.0" width="3.0" height="9.0" fill="#000000"/>
<rect x="105.1" y="561.5" width="8.0" height="10.0" fill="#1900fa"/>
<rect x="104.1" y="561.5" width="1.0" height="10.0" fill="#000096"/>
<rect x="113.1" y="561.5" width="1.0" height="10.0" fill="#000096"/>
<rect x="138.3" y="561.5" width="8.0" height="10.0" fill="#1900fa"/>
<rect x="137.3" y="561.5" width="1.0" height="10.0" fill="#000096"/>
<rect x="146.3" y="561.5" width="1.0" height="10.0" fill="#000096"/>
<rect x="171.5" y="561.5" width="8.0" height="10.0" fill="#1900fa"/>
<rect x="170.5" y="561.5" width="1.0" height="10.0" fill="#000096"/>
<rect x="179.5" y="561.5" width="1.0" height="10.0" fill="#000096"/>
<rect x="204.8" y="561.5" width="8.0" height="10.0" fill="#1900fa"/>
<rect x="203.8" y="561.5" width="1.0" height="10.0" fill="#000096"/>
<rect x="212.8" y="561.5" width="1.0" height="10.0" fill="#000096"/>
<rect x="238.0" y="561.5" width="8.0" height="10.0" fill="#1900fa"/>
<rect x="237.0" y="561.5" width="1.0" height="10.0" fill="#000096"/>
<rect x="246.0" y="561.5" width="1.0" height="10.0" fill="#000096"/>
<rect x="271.2" y="561.5" width="8.0" height="10.0" fill="#1900fa"/>
<rect x="270.2" y="561.5" width="1.0" height="10.0" fill="#000096"/>
<rect x="279.2" y="561.5" width="1.0" height="10.0" fill="#000096"/>
<rect x="304.5" y="561.5" width="8.0" height="10.0" fill="#1900fa"/>
<rect x="303.5" y="561.5" width="1.0" height="10.0" fill="#000096"/>
<rect x="312.5" y="561.5" width="1.0" height="10.0" fill="#000096"/>
<rect x="337.7" y="561.5" width="8.0" height="10.0" fill="#1900fa"/>
<rect x="336.7" y="561.5" width="1.0" height="10.0" fill="#000096"/>
<rect x="345.7" y="561.5" width="1.0" height="10.0" fill="#000096"/>
<rect x="370.9" y="561.5" width="8.0" height="10.0" fill="#1900fa"/>
<rect x="369.9" y="561.5" width="1.0" height="10.0" fill="#000096"/>
<rect x="378.9" y="561.5" width="1.0" height="10.0" fill="#000096"/>
<rect x="404.2" y="561.5" width="8.0" height="10.0" fill="#1900fa"/>
<rect x="403.2" y="561.5" width="1.0" height="10.0" fill="#000096"/>
<rect x="412.2" y="561.5" width="1.0" height="10.0" fill="#000096"/>
<rect x="437.4" y="561.5" width="8.0" height="10.0" fill="#1900fa"/>
<rect x="436.4" y="561.5" width="1.0" height="10.0" fill="#000096"/>
<rect x="445.4" y="561.5" width="1.0" height="10.0" fill="#000096"/>
<rect x="470.6" y="561.5" width="8.0" height="10.0" fill="#1900fa"/>
<rect x="469.6" y="561.5" width="1.0" height="10.0" fill="#000096"/>
<rect x="478.6" y="561.5" width="1.0" height="10.0" fill="#000096"/>
<rect x="503.9" y="561.5" width="8.0" height="10.0" fill="#1900fa"/>
<rect x="502.9" y="561.5" width="1.0" height="10.0" fill="#000096"/>
<rect x="511.9" y="561.5" width="1.0" height="10.0" fill="#000096"/>
<rect x="537.1" y="561.5" width="8.0" height="10.0" fill="#1900fa"/>
<rect x="536.1" y="561.5" width="1.0" height="10.0" fill="#000096"/>
<rect x="545.1" y="561.5" width="1.0" height="10.0" fill="#000096"/>
<rect x="570.3" y="561.5" width="8.0" height="10.0" fill="#1900fa"/>
<rect x="569.3" y="561.5" width="1.0" height="10.0" fill="#000096"/>
<rect x="578.3" y="561.5" width="1.0" height="10.0" fill="#000096"/>
<rect x="603.6" y="561.5" width="8.0" height="10.0" fill="#1900fa"/>
<rect x="602.6" y="561.5" width="1.0" height="10.0" fill="#000096"/>
<rect x="611.6" y="561.5" width="1.0" height="10.0" fill="#000096"/>
<rect x="636.8" y="561.5" width="8.0" height="10.0" fill="#1900fa"/>
<rect x="635.8" y="561.5" width="1.0" height="10.0" fill="#000096"/>
<rect x="644.8" y="561.5" width="1.0" height="10.0" fill="#000096"/>
<rect x="670.1" y="561.5" width="8.0" height="10.0" fill="#1900fa"/>
<rect x="669.1" y="561.5" width="1.0" height="10.0" fill="#000096"/>
<rect x="678.1" y="561.5" width="1.0" height="10.0" fill="#000096"/>
<rect x="703.3" y="561.5" width="8.0" height="10.0" fill="#1900fa"/>
<rect x="702.3" y="561.5" width="1.0" height="10.0" fill="#000096"/>
<rect x="711.3" y="561.5" width="1.0" height="10.0" fill="#000096"/>
<rect x="778.3" y="563.0" width="24.2" height="7.0" fill="#000046"/>
<rect x="778.3" y="563.0" width="3.0" height="7.0" fill="#00001e"/>
<rect x="782.3" y="563.0" width="3.0" height="7.0" fill="#000000"/>
<rect x="786.3" y="563.0" width="2.0" height="7.0" fill="#00000a"/>
<rect x="789.3" y="563.0" width="1.0" height="7.0" fill="#00001e"/>
<rect x="791.3" y="563.0" width="2.0" height="7.0" fill="#00003c"/>
<rect x="795.3" y="563.0" width="2.0" height="7.0" fill="#00003c"/>
<rect x="798.3" y="563.0" width="1.0" height="7.0" fill="#000000"/>
<rect x="800.3" y="563.0" width="1.0" height="7.0" fill="#00000a"/>
<rect x="811.5" y="563.0" width="24.2" height="7.0" fill="#000046"/>
<rect x="811.5" y="563.0" width="2.0" height="7.0" fill="#00000a"/>
<rect x="814.5" y="563.0" width="3.0" height="7.0" fill="#000000"/>
<rect x="818.5" y="563.0" width="1.0" height="7.0" fill="#000000"/>
<rect x="820.5" y="563.0" width="1.0" height="7.0" fill="#00000a"/>
<rect x="822.5" y="563.0" width="3.0" height="7.0" fill="#00003c"/>
<rect x="826.5" y="563.0" width="2.0" height="7.0" fill="#00003c"/>
<rect x="830.5" y="563.0" width="2.0" height="7.0" fill="#00000a"/>
<rect x="833.5" y="563.0" width="2.2" height="7.0" fill="#00003c"/>
<rect x="844.7" y="563.0" width="24.2" height="7.0" fill="#000046"/>
<rect x="844.7" y="563.0" width="3.0" height="7.0" fill="#000000"/>
<rect x="849.7" y="563.0" width="3.0" height="7.0" fill="#00001e"/>
<rect x="853.7" y="563.0" width="1.0" height="7.0" fill="#00001e"/>
<rect x="855.7" y="563.0" width="2.0" height="7.0" fill="#00001e"/>
<rect x="858.7" y="563.0" width="3.0" height="7.0" fill="#000000"/>
<rect x="863.7" y="563.0" width="3.0" height="7.0" fill="#00000a"/>
<rect x="868.7" y="563.0" width="0.2" height="7.0" fill="#00001e"/>
<rect x="878.0" y="563.0" width="24.2" height="7.0" fill="#000046"/>
<rect x="878.0" y="563.0" width="2.0" height="7.0" fill="#00001e"/>
<rect x="882.0" y="563.0" width="2.0" height="7.0" fill="#00000a"/>
<rect x="885.0" y="563.0" width="2.0" height="7.0" fill="#00000a"/>
<rect x="889.0" y="563.0" width="2.0" height="7.0" fill="#000000"/>
<rect x="893.0" y="563.0" width="2.0" height="7.0" fill="#000000"/>
<rect x="896.0" y="563.0" width="2.0" height="7.0" fill="#00003c"/>
<rect x="900.0" y="563.0" width="2.2" height="7.0" fill="#00001e"/>
<rect x="911.2" y="563.0" width="24.2" height="7.0" fill="#000046"/>
<rect x="911.2" y="563.0" width="1.0" height="7.0" fill="#00001e"/>
<rect x="913.2" y="563.0" width="3.0" height="7.0" fill="#000000"/>
<rect x="917.2" y="563.0" width="2.0" height="7.0" fill="#00000a"/>
<rect x="921.2" y="563.0" width="1.0" height="7.0" fill="#00001e"/>
<rect x="923.2" y="563.0" width="2.0" height="7.0" fill="#00000a"/>
<rect x="926.2" y="563.0" width="1.0" height="7.0" fill="#00001e"/>
<rect x="929.2" y="563.0" width="2.0" height="7.0" fill="#00000a"/>
<rect x="933.2" y="563.0" width="2.0" height="7.0" fill="#00000a"/>
<rect x="944.4" y="563.0" width="24.2" height="7.0" fill="#000046"/>
<rect x="944.4" y="563.0" width="1.0" height="7.0" fill="#00003c"/>
<rect x="946.4" y="563.0" width="3.0" height="7.0" fill="#00000a"/>
<rect x="951.4" y="563.0" width="2.0" height="7.0" fill="#00001e"/>
<rect x="955.4" y="563.0" width="3.0" height="7.0" fill="#000000"/>
<rect x="959.4" y="563.0" width="2.0" height="7.0" fill="#00003c"/>
<rect x="962.4" y="563.0" width="1.0" height="7.0" fill="#00000a"/>
<rect x="965.4" y="563.0" width="3.0" height="7.0" fill="#000000"/>
<rect x="977.7" y="563.0" width="24.2" height="7.0" fill="#000046"/>
<rect x="977.7" y="563.0" width="3.0" height="7.0" fill="#00000a"/>
<rect x="981.7" y="563.0" width="2.0" height="7.0" fill="#00001e"/>
<rect x="984.7" y="563.0" width="2.0" height="7.0" fill="#000000"/>
<rect x="988.7" y="563.0" width="1.0" height="7.0" fill="#00000a"/>
<rect x="990.7" y="563.0" width="3.0" height="7.0" fill="#000000"/>
<rect x="994.7" y="563.0" width="2.0" height="7.0" fill="#00003c"/>
<rect x="998.7" y="563.0" width="3.0" height="7.0" fill="#00001e"/>
<rect x="1010.9" y="563.0" width="24.2" height="7.0" fill="#000046"/>
<rect x="1010.9" y="563.0" width="3.0" height="7.0" fill="#00003c"/>
<rect x="1014.9" y="563.0" width="1.0" height="7.0" fill="#000000"/>
<rect x="1017.9" y="563.0" width="2.0" height="7.0" fill="#00003c"/>
<rect x="1020.9" y="563.0" width="1.0" height="7.0" fill="#00001e"/>
<rect x="1022.9" y="563.0" width="2.0" height="7.0" fill="#00003c"/>
<rect x="1026.9" y="563.0" width="3.0" height="7.0" fill="#00001e"/>
<rect x="1030.9" y="563.0" width="1.0" height="7.0" fill="#00000a"/>
<rect x="1032.9" y="563.0" width="2.2" height="7.0" fill="#00000a"/>
<rect x="1044.1" y="563.0" width="24.2" height="7.0" fill="#000046"/>
<rect x="1044.1" y="563.0" width="3.0" height="7.0" fill="#000000"/>
<rect x="1048.1" y="563.0" width="1.0" height="7.0" fill="#00000a"/>
<rect x="1051.1" y="563.0" width="2.0" height="7.0" fill="#00003c"/>
<rect x="1054.1" y="563.0" width="1.0" height="7.0" fill="#00001e"/>
<rect x="1057.1" y="563.0" width="3.0" height="7.0" fill="#00000a"/>
<rect x="1061.1" y="563.0" width="3.0" height="7.0" fill="#000000"/>
<rect x="1065.1" y="563.0" width="1.0" height="7.0" fill="#00000a"/>
<rect x="1067.1" y="563.0" width="1.2" height="7.0" fill="#000000"/>
<rect x="1077.4" y="563.0" width="24.2" height="7.0" fill="#000046"/>
<rect x="1077.4" y="563.0" width="2.0" height="7.0" fill="#00001e"/>
<rect x="1080.4" y="563.0" width="2.0" height="7.0" fill="#00000a"/>
<rect x="1083.4" y="563.0" width="3.0" height="7.0" fill="#00003c"/>
<rect x="1088.4" y="563.0" width="3.0" height="7.0" fill="#00000a"/>
<rect x="1092.4" y="563.0" width="2.0" height="7.0" fill="#000000"/>
<rect x="1095.4" y="563.0" width="1.0" height="7.0" fill="#00003c"/>
<rect x="1097.4" y="563.0" width="2.0" height="7.0" fill="#00001e"/>
<rect x="1100.4" y="563.0" width="1.2" height="7.0" fill="#00003c"/>
<rect x="1110.6" y="563.0" width="5.4" height="7.0" fill="#000046"/>
<rect x="1110.6" y="563.0" width="2.0" height="7.0" fill="#00001e"/>
<rect x="1114.6" y="563.0" width="1.0" height="7.0" fill="#00000a"/>
<rect x="1135.3" y="561.5" width="8.0" height="10.0" fill="#1900fa"/>
<rect x="1134.3" y="561.5" width="1.0" height="10.0" fill="#000096"/>
<rect x="1143.3" y="561.5" width="1.0" height="10.0" fill="#000096"/>
<rect x="1168.6" y="561.5" width="8.0" height="10.0" fill="#1900fa"/>
<rect x="1167.6" y="561.5" width="1.0" height="10.0" fill="#000096"/>
<rect x="1176.6" y="561.5" width="1.0" height="10.0" fill="#000096"/>
<rect x="1201.8" y="561.5" width="8.0" height="10.0" fill="#1900fa"/>
<rect x="1200.8" y="561.5" width="1.0" height="10.0" fill="#000096"/>
<rect x="1209.8" y="561.5" width="1.0" height="10.0" fill="#000096"/>
<rect x="1235.0" y="561.5" width="8.0" height="10.0" fill="#1900fa"/>
<rect x="1234.0" y="561.5" width="1.0" height="10.0" fill="#000096"/>
<rect x="1243.0" y="561.5" width="1.0" height="10.0" fill="#000096"/>
<rect x="1268.3" y="561.5" width="8.0" height="10.0" fill="#1900fa"/>
<rect x="1267.3" y="561.5" width="1.0" height="10.0" fill="#000096"/>
<rect x="1276.3" y="561.5" width="1.0" height="10.0" fill="#000096"/>
<rect x="1301.5" y="561.5" width="8.0" height="10.0" fill="#1900fa"/>
<rect x="1300.5" y="561.5" width="1.0" height="10.0" fill="#000096"/>
<rect x="1309.5" y="561.5" width="1.0" height="10.0" fill="#000096"/>
<rect x="1334.8" y="561.5" width="8.0" height="10.0" fill="#1900fa"/>
<rect x="1333.8" y="561.5" width="1.0" height="10.0" fill="#000096"/>
<rect x="1342.8" y="561.5" width="1.0" height="10.0" fill="#000096"/>
<rect x="1368.0" y="561.5" width="8.0" height="10.0" fill="#1900fa"/>
<rect x="1367.0" y="561.5" width="1.0" height="10.0" fill="#000096"/>
<rect x="1376.0" y="561.5" width="1.0" height="10.0" fill="#000096"/>
<rect x="1401.2" y="561.5" width="8.0" height="10.0" fill="#1900fa"/>
<rect x="1400.2" y="561.5" width="1.0" height="10.0" fill="#000096"/>
<rect x="1409.2" y="561.5" width="1.0" height="10.0" fill="#000096"/>
<rect x="1434.5" y="561.5" width="8.0" height="10.0" fill="#1900fa"/>
<rect x="1433.5" y="561.5" width="1.0" height="10.0" fill="#000096"/>
<rect x="1442.5" y="561.5" width="1.0" height="10.0" fill="#000096"/>
<rect x="1467.7" y="561.5" width="8.0" height="10.0" fill="#1900fa"/>
<rect x="1466.7" y="561.5" width="1.0" height="10.0" fill="#000096"/>
<rect x="1475.7" y="561.5" width="1.0" height="10.0" fill="#000096"/>
<rect x="1500.9" y="561.5" width="8.0" height="10.0" fill="#1900fa"/>
<rect x="1499.9" y="561.5" width="1.0" height="10.0" fill="#000096"/>
<rect x="1508.9" y="561.5" width="1.0" height="10.0" fill="#000096"/>
<rect x="1534.2" y="561.5" width="8.0" height="10.0" fill="#1900fa"/>
<rect x="1533.2" y="561.5" width="1.0" height="10.0" fill="#000096"/>
<rect x="1542.2" y="561.5" width="1.0" height="10.0" fill="#000096"/>
<rect x="1567.4" y="561.5" width="8.0" height="10.0" fill="#1900fa"/>
<rect x="1566.4" y="561.5" width="1.0" height="10.0" fill="#000096"/>
<rect x="1575.4" y="561.5" width="1.0" height="10.0" fill="#000096"/>
<rect x="1600.6" y="561.5" width="8.0" height="10.0" fill="#1900fa"/>
<rect x="1599.6" y="561.5" width="1.0" height="10.0" fill="#000096"/>
<rect x="1608.6" y="561.5" width="1.0" height="10.0" fill="#000096"/>
<rect x="1633.9" y="561.5" width="8.0" height="10.0" fill="#1900fa"/>
<rect x="1632.9" y="561.5" width="1.0" height="10.0" fill="#000096"/>
<rect x="1641.9" y="561.5" width="1.0" height="10.0" fill="#000096"/>
<rect x="1667.1" y="561.5" width="8.0" height="10.0" fill="#1900fa"/>
<rect x="1666.1" y="561.5" width="1.0" height="10.0" fill="#000096"/>
<rect x="1675.1" y="561.5" width="1.0" height="10.0" fill="#000096"/>
<rect x="1700.3" y="561.5" width="8.0" height="10.0" fill="#1900fa"/>
<rect x="1699.3" y="561.5" width="1.0" height="10.0" fill="#000096"/>
<rect x="1708.3" y="561.5" width="1.0" height="10.0" fill="#000096"/>
<rect x="1733.6" y="561.5" width="8.0" height="10.0" fill="#1900fa"/>
<rect x="1732.6" y="561.5" width="1.0" height="10.0" fill="#000096"/>
<rect x="1741.6" y="561.5" width="1.0" height="10.0" fill="#000096"/>
<rect x="1766.8" y="561.5" width="8.0" height="10.0" fill="#1900fa"/>
<rect x="1765.8" y="561.5" width="1.0" height="10.0" fill="#000096"/>
<rect x="1774.8" y="561.5" width="1.0" height="10.0" fill="#000096"/>
<rect x="736.0" y="561.5" width="8.0" height="10.0" fill="#9600ff"/>
<rect x="704.0" y="561.5" width="6.0" height="10.0" fill="#0a00e6"/>
</g>
</defs>
<rect x="0" y="0" width="2047" height="1067" fill="#fff"/>
<g clip-path="url(#cpAll)"><g filter="url(#noiseB)"><use href="#spec"/></g>
<g mask="url(#msk)"><rect x="102" y="50" width="1675" height="420" fill="#000" filter="url(#streak)"/></g>
</g>
<g clip-path="url(#cpAll)">
<rect x="643.3" y="284" width="1.5" height="168" fill="url(#ln1)"/>
<rect x="937.8" y="480.0" width="1.4" height="405.0" fill="#6a18ff" opacity="0.80"/>
<rect x="1071.8" y="135.0" width="2.4" height="841.0" fill="#2a14ff" opacity="0.55"/>
<rect x="796.7" y="735.0" width="1.2" height="190.0" fill="#6a18ff" opacity="0.70"/>
<rect x="1232.5" y="135.0" width="3.0" height="425.0" fill="#1c1cff" opacity="0.55"/>
<rect x="1194.8" y="135.0" width="1.3" height="841.0" fill="#000010" opacity="0.75"/>
<rect x="1037.5" y="700.0" width="1.0" height="276.0" fill="#000020" opacity="0.45"/>
<rect x="1418.5" y="135.0" width="1.1" height="841.0" fill="#1818ff" opacity="0.45"/>
<rect x="1763.3" y="245" width="1.5" height="471" fill="url(#ln2)"/>
<rect x="1481.4" y="200.0" width="1.2" height="214.0" fill="#2424ff" opacity="0.70"/>
<rect x="1255.5" y="860.0" width="1.0" height="116.0" fill="#5020ff" opacity="0.60"/>
<rect x="1187.2" y="135.0" width="1.5" height="265.0" fill="#2020e0" opacity="0.35"/>
<rect x="1535.5" y="600.0" width="1.0" height="100.0" fill="#2828ff" opacity="0.50"/>
<g filter="url(#sb)">
<rect x="469.0" y="943.5" width="2.0" height="9.0" rx="1" fill="#ffd0e0" opacity="1.00"/>
<rect x="466.5" y="944.0" width="2.0" height="8.0" rx="1" fill="#ff50a8" opacity="1.00"/>
<rect x="472.0" y="945.0" width="2.0" height="8.0" rx="1" fill="#e038d8" opacity="1.00"/>
<rect x="460.0" y="944.5" width="2.0" height="5.0" rx="1" fill="#ff50a8" opacity="1.00"/>
<rect x="417.6" y="853.0" width="1.6" height="9.0" rx="1" fill="#2020ff" opacity="1.00"/>
<rect x="420.2" y="853.0" width="1.6" height="9.0" rx="1" fill="#2020ff" opacity="1.00"/>
<rect x="422.8" y="853.0" width="1.6" height="9.0" rx="1" fill="#2020ff" opacity="1.00"/>
<rect x="399.5" y="896.5" width="5.0" height="5.0" rx="1" fill="#2020ff" opacity="0.80"/>
<rect x="987.5" y="921.5" width="5.0" height="5.0" rx="1" fill="#ff50a8" opacity="1.00"/>
<rect x="987.5" y="892.0" width="5.0" height="5.0" rx="1" fill="#e038d8" opacity="1.00"/>
<rect x="987.0" y="828.5" width="6.0" height="5.0" rx="1" fill="#9a20ff" opacity="0.80"/>
<rect x="987.0" y="799.5" width="6.0" height="5.0" rx="1" fill="#9a20ff" opacity="0.70"/>
<rect x="1089.0" y="853.0" width="2.0" height="9.0" rx="1" fill="#ff50a8" opacity="1.00"/>
<rect x="1092.5" y="853.0" width="2.0" height="9.0" rx="1" fill="#ff50a8" opacity="1.00"/>
<rect x="753.1" y="853.0" width="1.6" height="9.0" rx="1" fill="#9a20ff" opacity="1.00"/>
<rect x="755.7" y="853.0" width="1.6" height="9.0" rx="1" fill="#9a20ff" opacity="1.00"/>
<rect x="758.3" y="853.0" width="1.6" height="9.0" rx="1" fill="#9a20ff" opacity="1.00"/>
<rect x="735.5" y="897.0" width="2.0" height="5.0" rx="1" fill="#ff50a8" opacity="1.00"/>
<rect x="738.5" y="897.0" width="2.0" height="5.0" rx="1" fill="#e038d8" opacity="1.00"/>
<rect x="1071.0" y="897.0" width="3.0" height="5.0" rx="1" fill="#ff50a8" opacity="1.00"/>
<rect x="1013.5" y="935.5" width="4.0" height="5.0" rx="1" fill="#9a20ff" opacity="1.00"/>
<rect x="1031.5" y="921.5" width="4.0" height="5.0" rx="1" fill="#9a20ff" opacity="1.00"/>
<rect x="884.5" y="921.5" width="3.0" height="5.0" rx="1" fill="#9a20ff" opacity="1.00"/>
<rect x="1051.0" y="943.5" width="2.0" height="9.0" rx="1" fill="#e038d8" opacity="1.00"/>
<rect x="1054.5" y="943.5" width="2.0" height="9.0" rx="1" fill="#e038d8" opacity="1.00"/>
<rect x="886.5" y="943.5" width="7.0" height="9.0" rx="1" fill="#9a20ff" opacity="0.60"/>
<rect x="796.0" y="793.5" width="2.0" height="5.0" rx="1" fill="#e038d8" opacity="0.80"/>
<rect x="713.5" y="943.5" width="5.0" height="9.0" rx="1" fill="#2020ff" opacity="0.80"/>
<rect x="1232.0" y="792.5" width="4.0" height="7.0" rx="1" fill="#9a20ff" opacity="0.80"/>
<rect x="1232.0" y="825.5" width="4.0" height="5.0" rx="1" fill="#9a20ff" opacity="1.00"/>
<rect x="1232.0" y="889.5" width="4.0" height="5.0" rx="1" fill="#ff50a8" opacity="1.00"/>
<rect x="1232.0" y="917.0" width="4.0" height="6.0" rx="1" fill="#ff50a8" opacity="1.00"/>
<rect x="1232.0" y="799.5" width="4.0" height="5.0" rx="1" fill="#9a20ff" opacity="0.50"/>
<rect x="1232.5" y="498.5" width="3.0" height="5.0" rx="1" fill="#2020ff" opacity="1.00"/>
<rect x="1241.5" y="934.0" width="3.0" height="4.0" rx="1" fill="#2020ff" opacity="0.70"/>
<rect x="1423.0" y="853.5" width="2.0" height="9.0" rx="1" fill="#e038d8" opacity="1.00"/>
<rect x="1426.5" y="853.5" width="2.0" height="9.0" rx="1" fill="#e038d8" opacity="1.00"/>
<rect x="1759.5" y="853.5" width="2.0" height="9.0" rx="1" fill="#e038d8" opacity="1.00"/>
<rect x="1763.0" y="853.5" width="2.0" height="9.0" rx="1" fill="#e038d8" opacity="1.00"/>
<rect x="1393.5" y="862.0" width="15.0" height="8.0" rx="1" fill="#2418ff" opacity="0.80"/>
<rect x="1404.0" y="896.5" width="6.0" height="5.0" rx="1" fill="#2020ff" opacity="1.00"/>
<rect x="1738.0" y="896.5" width="6.0" height="5.0" rx="1" fill="#2020ff" opacity="1.00"/>
<rect x="1746.0" y="921.5" width="4.0" height="5.0" rx="1" fill="#2020ff" opacity="1.00"/>
<rect x="1504.0" y="921.5" width="2.0" height="5.0" rx="1" fill="#9a20ff" opacity="0.70"/>
<rect x="1281.0" y="799.0" width="4.0" height="4.0" rx="1" fill="#2020ff" opacity="0.70"/>
<rect x="1281.5" y="922.0" width="3.0" height="4.0" rx="1" fill="#2020ff" opacity="0.70"/>
<rect x="1473.0" y="863.5" width="14.0" height="5.0" rx="1" fill="#2020ff" opacity="0.50"/>
<rect x="1533.0" y="863.5" width="14.0" height="5.0" rx="1" fill="#2020ff" opacity="0.50"/>
<rect x="1613.0" y="872.5" width="14.0" height="5.0" rx="1" fill="#2020ff" opacity="0.40"/>
</g>
</g>
<rect x="102.45" y="51.40" width="1674.15" height="924.00" fill="none" stroke="#000" stroke-width="1.3"/>
<line x1="102.45" x2="102.45" y1="975.4" y2="981.8" stroke="#000" stroke-width="1.3"/>
<text x="101.95" y="1010.2" font-size="30.20" text-anchor="middle">12:00</text>
<line x1="214.03" x2="214.03" y1="975.4" y2="981.8" stroke="#000" stroke-width="1.3"/>
<text x="213.53" y="1010.2" font-size="30.20" text-anchor="middle">12:01</text>
<line x1="325.61" x2="325.61" y1="975.4" y2="981.8" stroke="#000" stroke-width="1.3"/>
<text x="325.11" y="1010.2" font-size="30.20" text-anchor="middle">12:02</text>
<line x1="437.19" x2="437.19" y1="975.4" y2="981.8" stroke="#000" stroke-width="1.3"/>
<text x="436.69" y="1010.2" font-size="30.20" text-anchor="middle">12:03</text>
<line x1="548.77" x2="548.77" y1="975.4" y2="981.8" stroke="#000" stroke-width="1.3"/>
<text x="548.27" y="1010.2" font-size="30.20" text-anchor="middle">12:04</text>
<line x1="660.35" x2="660.35" y1="975.4" y2="981.8" stroke="#000" stroke-width="1.3"/>
<text x="659.85" y="1010.2" font-size="30.20" text-anchor="middle">12:05</text>
<line x1="771.93" x2="771.93" y1="975.4" y2="981.8" stroke="#000" stroke-width="1.3"/>
<text x="771.43" y="1010.2" font-size="30.20" text-anchor="middle">12:06</text>
<line x1="883.51" x2="883.51" y1="975.4" y2="981.8" stroke="#000" stroke-width="1.3"/>
<text x="883.01" y="1010.2" font-size="30.20" text-anchor="middle">12:07</text>
<line x1="995.09" x2="995.09" y1="975.4" y2="981.8" stroke="#000" stroke-width="1.3"/>
<text x="994.59" y="1010.2" font-size="30.20" text-anchor="middle">12:08</text>
<line x1="1106.67" x2="1106.67" y1="975.4" y2="981.8" stroke="#000" stroke-width="1.3"/>
<text x="1106.17" y="1010.2" font-size="30.20" text-anchor="middle">12:09</text>
<line x1="1218.25" x2="1218.25" y1="975.4" y2="981.8" stroke="#000" stroke-width="1.3"/>
<text x="1217.75" y="1010.2" font-size="30.20" text-anchor="middle">12:10</text>
<line x1="1329.83" x2="1329.83" y1="975.4" y2="981.8" stroke="#000" stroke-width="1.3"/>
<text x="1329.33" y="1010.2" font-size="30.20" text-anchor="middle">12:11</text>
<line x1="1441.41" x2="1441.41" y1="975.4" y2="981.8" stroke="#000" stroke-width="1.3"/>
<text x="1440.91" y="1010.2" font-size="30.20" text-anchor="middle">12:12</text>
<line x1="1552.99" x2="1552.99" y1="975.4" y2="981.8" stroke="#000" stroke-width="1.3"/>
<text x="1552.49" y="1010.2" font-size="30.20" text-anchor="middle">12:13</text>
<line x1="1664.57" x2="1664.57" y1="975.4" y2="981.8" stroke="#000" stroke-width="1.3"/>
<text x="1664.07" y="1010.2" font-size="30.20" text-anchor="middle">12:14</text>
<line x1="96" x2="102.4" y1="925.35" y2="925.35" stroke="#000" stroke-width="1.3"/>
<text x="90.4" y="936.45" font-size="30.20" text-anchor="end">20</text>
<line x1="96" x2="102.4" y1="800.38" y2="800.38" stroke="#000" stroke-width="1.3"/>
<text x="90.4" y="811.48" font-size="30.20" text-anchor="end">30</text>
<line x1="96" x2="102.4" y1="675.40" y2="675.40" stroke="#000" stroke-width="1.3"/>
<text x="90.4" y="686.50" font-size="30.20" text-anchor="end">40</text>
<line x1="96" x2="102.4" y1="550.42" y2="550.42" stroke="#000" stroke-width="1.3"/>
<text x="90.4" y="561.52" font-size="30.20" text-anchor="end">50</text>
<line x1="96" x2="102.4" y1="425.45" y2="425.45" stroke="#000" stroke-width="1.3"/>
<text x="90.4" y="436.55" font-size="30.20" text-anchor="end">60</text>
<line x1="96" x2="102.4" y1="300.48" y2="300.48" stroke="#000" stroke-width="1.3"/>
<text x="90.4" y="311.58" font-size="30.20" text-anchor="end">70</text>
<line x1="96" x2="102.4" y1="175.50" y2="175.50" stroke="#000" stroke-width="1.3"/>
<text x="90.4" y="186.60" font-size="30.20" text-anchor="end">80</text>
<text x="937.4" y="41" font-size="36.7" text-anchor="middle" xml:space="preserve">2025/07/15  Radio flux density, e-CALLISTO (MRO), Focuscode: 61</text>
<text x="938.2" y="1048.5" font-size="33.5" text-anchor="middle">Observation time [UTC]</text>
<text transform="translate(36.8,513.5) rotate(-90)" font-size="33.4" text-anchor="middle">Frequency [MHz]</text>
<rect x="1916.7" y="27.4" width="42.8" height="959.8" fill="url(#cb)" stroke="#000" stroke-width="1.3"/>
<line x1="1959.5" x2="1965.6" y1="987.20" y2="987.20" stroke="#000" stroke-width="1.3"/>
<text x="1971.3" y="992.10" font-size="16.6">−2</text>
<line x1="1959.5" x2="1965.6" y1="874.28" y2="874.28" stroke="#000" stroke-width="1.3"/>
<text x="1971.3" y="879.18" font-size="16.6">0</text>
<line x1="1959.5" x2="1965.6" y1="761.36" y2="761.36" stroke="#000" stroke-width="1.3"/>
<text x="1971.3" y="766.26" font-size="16.6">2</text>
<line x1="1959.5" x2="1965.6" y1="648.45" y2="648.45" stroke="#000" stroke-width="1.3"/>
<text x="1971.3" y="653.35" font-size="16.6">4</text>
<line x1="1959.5" x2="1965.6" y1="535.53" y2="535.53" stroke="#000" stroke-width="1.3"/>
<text x="1971.3" y="540.43" font-size="16.6">6</text>
<line x1="1959.5" x2="1965.6" y1="422.61" y2="422.61" stroke="#000" stroke-width="1.3"/>
<text x="1971.3" y="427.51" font-size="16.6">8</text>
<line x1="1959.5" x2="1965.6" y1="309.69" y2="309.69" stroke="#000" stroke-width="1.3"/>
<text x="1971.3" y="314.59" font-size="16.6">10</text>
<line x1="1959.5" x2="1965.6" y1="196.78" y2="196.78" stroke="#000" stroke-width="1.3"/>
<text x="1971.3" y="201.68" font-size="16.6">12</text>
<line x1="1959.5" x2="1965.6" y1="83.86" y2="83.86" stroke="#000" stroke-width="1.3"/>
<text x="1971.3" y="88.76" font-size="16.6">14</text>
<text transform="translate(2026.3,506.9) rotate(-90)" font-size="33.4" text-anchor="middle">dB above background</text>
</svg>
</body></html>
